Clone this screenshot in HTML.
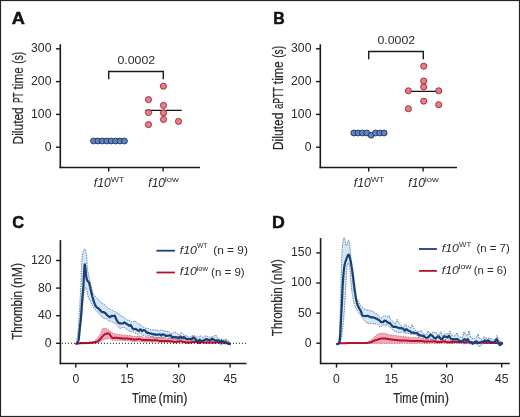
<!DOCTYPE html>
<html><head><meta charset="utf-8"><style>
html,body{margin:0;padding:0;background:#fff;}
body{width:520px;height:417px;overflow:hidden;}
svg{display:block;font-family:"Liberation Sans", sans-serif;will-change:transform;}
</style></head><body>
<svg width="520" height="417" viewBox="0 0 520 417">
<rect x="0" y="0" width="520" height="417" fill="#fff"/>
<rect x="0.5" y="0.5" width="519" height="416" fill="none" stroke="#262626" stroke-width="1.2"/>
<text x="11.65" y="24.30" font-size="17.2" font-weight="bold" fill="#111" textLength="13.13" lengthAdjust="spacingAndGlyphs" stroke="#111" stroke-width="0.5">A</text>
<text x="273.24" y="24.30" font-size="17.2" font-weight="bold" fill="#111" textLength="11.49" lengthAdjust="spacingAndGlyphs" stroke="#111" stroke-width="0.5">B</text>
<text x="12.23" y="227.60" font-size="17.2" font-weight="bold" fill="#111" textLength="11.82" lengthAdjust="spacingAndGlyphs" stroke="#111" stroke-width="0.5">C</text>
<text x="272.11" y="227.50" font-size="17.2" font-weight="bold" fill="#111" textLength="12.84" lengthAdjust="spacingAndGlyphs" stroke="#111" stroke-width="0.5">D</text>
<line x1="60.3" y1="44.3" x2="60.3" y2="168.2" stroke="#1a1a1a" stroke-width="1.6"/>
<line x1="59.599999999999994" y1="167.5" x2="200" y2="167.5" stroke="#1a1a1a" stroke-width="1.6"/>
<line x1="56.0" y1="48.8" x2="60.3" y2="48.8" stroke="#1a1a1a" stroke-width="1.4"/>
<text x="31.09" y="52.20" font-size="12.6" fill="#2b2b2b" textLength="20.39" lengthAdjust="spacingAndGlyphs">300</text>
<line x1="56.0" y1="81.6" x2="60.3" y2="81.6" stroke="#1a1a1a" stroke-width="1.4"/>
<text x="31.09" y="85.00" font-size="12.6" fill="#2b2b2b" textLength="20.39" lengthAdjust="spacingAndGlyphs">200</text>
<line x1="56.0" y1="114.4" x2="60.3" y2="114.4" stroke="#1a1a1a" stroke-width="1.4"/>
<text x="31.09" y="117.80" font-size="12.6" fill="#2b2b2b" textLength="20.39" lengthAdjust="spacingAndGlyphs">100</text>
<line x1="56.0" y1="147.2" x2="60.3" y2="147.2" stroke="#1a1a1a" stroke-width="1.4"/>
<text x="44.68" y="150.60" font-size="12.6" fill="#2b2b2b" textLength="6.80" lengthAdjust="spacingAndGlyphs">0</text>
<line x1="108.7" y1="167.5" x2="108.7" y2="171.6" stroke="#1a1a1a" stroke-width="1.4"/>
<line x1="163.1" y1="167.5" x2="163.1" y2="171.6" stroke="#1a1a1a" stroke-width="1.4"/>
<text x="93.79" y="186.90" font-size="12.2" font-style="italic" fill="#2b2b2b" textLength="16.91" lengthAdjust="spacingAndGlyphs">f10</text>
<text x="110.86" y="182.10" font-size="7.8" fill="#2b2b2b" textLength="13.54" lengthAdjust="spacingAndGlyphs">WT</text>
<text x="148.29" y="186.90" font-size="12.2" font-style="italic" fill="#2b2b2b" textLength="16.81" lengthAdjust="spacingAndGlyphs">f10</text>
<text x="164.67" y="182.10" font-size="7.8" fill="#2b2b2b" textLength="14.11" lengthAdjust="spacingAndGlyphs">low</text>
<g transform="translate(22.70,0) rotate(-90)"><text x="-144.48" y="0.00" font-size="14.8" fill="#2b2b2b" textLength="37.25" lengthAdjust="spacingAndGlyphs" stroke="#2b2b2b" stroke-width="0.22">Diluted</text><text x="-103.09" y="0.00" font-size="14.8" fill="#2b2b2b" textLength="10.79" lengthAdjust="spacingAndGlyphs" stroke="#2b2b2b" stroke-width="0.22">PT</text><text x="-89.48" y="0.00" font-size="14.8" fill="#2b2b2b" textLength="22.20" lengthAdjust="spacingAndGlyphs" stroke="#2b2b2b" stroke-width="0.22">time</text><text x="-63.74" y="0.00" font-size="14.8" fill="#2b2b2b" textLength="11.97" lengthAdjust="spacingAndGlyphs" stroke="#2b2b2b" stroke-width="0.22">(s)</text></g>
<path d="M108.7 79.3 V71.5 H163.3 V79.3" fill="none" stroke="#1a1a1a" stroke-width="1.4"/>
<text x="117.42" y="63.80" font-size="11.4" fill="#2b2b2b" textLength="37.70" lengthAdjust="spacingAndGlyphs">0.0002</text>
<line x1="145.4" y1="110.4" x2="181.8" y2="110.4" stroke="#111" stroke-width="1.4"/>
<circle cx="93.50" cy="141.0" r="2.95" fill="#6283be" stroke="#1c3462" stroke-width="0.9"/>
<circle cx="97.92" cy="141.0" r="2.95" fill="#6283be" stroke="#1c3462" stroke-width="0.9"/>
<circle cx="102.34" cy="141.0" r="2.95" fill="#6283be" stroke="#1c3462" stroke-width="0.9"/>
<circle cx="106.76" cy="141.0" r="2.95" fill="#6283be" stroke="#1c3462" stroke-width="0.9"/>
<circle cx="111.18" cy="141.0" r="2.95" fill="#6283be" stroke="#1c3462" stroke-width="0.9"/>
<circle cx="115.60" cy="141.0" r="2.95" fill="#6283be" stroke="#1c3462" stroke-width="0.9"/>
<circle cx="120.02" cy="141.0" r="2.95" fill="#6283be" stroke="#1c3462" stroke-width="0.9"/>
<circle cx="124.44" cy="141.0" r="2.95" fill="#6283be" stroke="#1c3462" stroke-width="0.9"/>
<circle cx="163.40" cy="86.2" r="3.05" fill="#ee747e" stroke="#962432" stroke-width="0.9" fill-opacity="0.95"/>
<circle cx="148.50" cy="99.6" r="3.05" fill="#ee747e" stroke="#962432" stroke-width="0.9" fill-opacity="0.95"/>
<circle cx="163.50" cy="105.4" r="3.05" fill="#ee747e" stroke="#962432" stroke-width="0.9" fill-opacity="0.95"/>
<circle cx="148.50" cy="112.6" r="3.05" fill="#ee747e" stroke="#962432" stroke-width="0.9" fill-opacity="0.95"/>
<circle cx="163.50" cy="112.9" r="3.05" fill="#ee747e" stroke="#962432" stroke-width="0.9" fill-opacity="0.95"/>
<circle cx="163.50" cy="119.5" r="3.05" fill="#ee747e" stroke="#962432" stroke-width="0.9" fill-opacity="0.95"/>
<circle cx="178.50" cy="121.4" r="3.05" fill="#ee747e" stroke="#962432" stroke-width="0.9" fill-opacity="0.95"/>
<circle cx="148.50" cy="124.6" r="3.05" fill="#ee747e" stroke="#962432" stroke-width="0.9" fill-opacity="0.95"/>
<line x1="320.3" y1="44.3" x2="320.3" y2="168.2" stroke="#1a1a1a" stroke-width="1.6"/>
<line x1="319.6" y1="167.5" x2="457" y2="167.5" stroke="#1a1a1a" stroke-width="1.6"/>
<line x1="316.0" y1="48.8" x2="320.3" y2="48.8" stroke="#1a1a1a" stroke-width="1.4"/>
<text x="291.09" y="52.20" font-size="12.6" fill="#2b2b2b" textLength="20.39" lengthAdjust="spacingAndGlyphs">300</text>
<line x1="316.0" y1="81.6" x2="320.3" y2="81.6" stroke="#1a1a1a" stroke-width="1.4"/>
<text x="291.09" y="85.00" font-size="12.6" fill="#2b2b2b" textLength="20.39" lengthAdjust="spacingAndGlyphs">200</text>
<line x1="316.0" y1="114.4" x2="320.3" y2="114.4" stroke="#1a1a1a" stroke-width="1.4"/>
<text x="291.09" y="117.80" font-size="12.6" fill="#2b2b2b" textLength="20.39" lengthAdjust="spacingAndGlyphs">100</text>
<line x1="316.0" y1="147.2" x2="320.3" y2="147.2" stroke="#1a1a1a" stroke-width="1.4"/>
<text x="304.68" y="150.60" font-size="12.6" fill="#2b2b2b" textLength="6.80" lengthAdjust="spacingAndGlyphs">0</text>
<line x1="368.7" y1="167.5" x2="368.7" y2="171.6" stroke="#1a1a1a" stroke-width="1.4"/>
<line x1="423.1" y1="167.5" x2="423.1" y2="171.6" stroke="#1a1a1a" stroke-width="1.4"/>
<text x="353.79" y="186.90" font-size="12.2" font-style="italic" fill="#2b2b2b" textLength="16.91" lengthAdjust="spacingAndGlyphs">f10</text>
<text x="370.86" y="182.10" font-size="7.8" fill="#2b2b2b" textLength="13.54" lengthAdjust="spacingAndGlyphs">WT</text>
<text x="408.29" y="186.90" font-size="12.2" font-style="italic" fill="#2b2b2b" textLength="16.81" lengthAdjust="spacingAndGlyphs">f10</text>
<text x="424.67" y="182.10" font-size="7.8" fill="#2b2b2b" textLength="14.11" lengthAdjust="spacingAndGlyphs">low</text>
<g transform="translate(282.70,0) rotate(-90)"><text x="-150.20" y="0.00" font-size="14.8" fill="#2b2b2b" textLength="37.78" lengthAdjust="spacingAndGlyphs" stroke="#2b2b2b" stroke-width="0.22">Diluted</text><text x="-108.78" y="0.00" font-size="14.8" fill="#2b2b2b" textLength="21.68" lengthAdjust="spacingAndGlyphs" stroke="#2b2b2b" stroke-width="0.22">aPTT</text><text x="-84.18" y="0.00" font-size="14.8" fill="#2b2b2b" textLength="22.92" lengthAdjust="spacingAndGlyphs" stroke="#2b2b2b" stroke-width="0.22">time</text><text x="-57.83" y="0.00" font-size="14.8" fill="#2b2b2b" textLength="11.86" lengthAdjust="spacingAndGlyphs" stroke="#2b2b2b" stroke-width="0.22">(s)</text></g>
<path d="M368.7 59.3 V51.5 H423.3 V59.3" fill="none" stroke="#1a1a1a" stroke-width="1.4"/>
<text x="377.42" y="43.70" font-size="11.4" fill="#2b2b2b" textLength="37.70" lengthAdjust="spacingAndGlyphs">0.0002</text>
<line x1="405.4" y1="91.4" x2="441.8" y2="91.4" stroke="#111" stroke-width="1.4"/>
<circle cx="353.80" cy="133.0" r="2.95" fill="#6283be" stroke="#1c3462" stroke-width="0.9"/>
<circle cx="358.13" cy="133.0" r="2.95" fill="#6283be" stroke="#1c3462" stroke-width="0.9"/>
<circle cx="362.46" cy="133.0" r="2.95" fill="#6283be" stroke="#1c3462" stroke-width="0.9"/>
<circle cx="366.79" cy="133.0" r="2.95" fill="#6283be" stroke="#1c3462" stroke-width="0.9"/>
<circle cx="371.12" cy="135.2" r="2.95" fill="#6283be" stroke="#1c3462" stroke-width="0.9"/>
<circle cx="375.45" cy="133.0" r="2.95" fill="#6283be" stroke="#1c3462" stroke-width="0.9"/>
<circle cx="379.78" cy="133.0" r="2.95" fill="#6283be" stroke="#1c3462" stroke-width="0.9"/>
<circle cx="384.11" cy="133.0" r="2.95" fill="#6283be" stroke="#1c3462" stroke-width="0.9"/>
<circle cx="423.70" cy="66.2" r="3.05" fill="#ee747e" stroke="#962432" stroke-width="0.9" fill-opacity="0.95"/>
<circle cx="423.70" cy="81.0" r="3.05" fill="#ee747e" stroke="#962432" stroke-width="0.9" fill-opacity="0.95"/>
<circle cx="423.70" cy="86.9" r="3.05" fill="#ee747e" stroke="#962432" stroke-width="0.9" fill-opacity="0.95"/>
<circle cx="408.40" cy="90.8" r="3.05" fill="#ee747e" stroke="#962432" stroke-width="0.9" fill-opacity="0.95"/>
<circle cx="438.70" cy="90.8" r="3.05" fill="#ee747e" stroke="#962432" stroke-width="0.9" fill-opacity="0.95"/>
<circle cx="423.70" cy="101.2" r="3.05" fill="#ee747e" stroke="#962432" stroke-width="0.9" fill-opacity="0.95"/>
<circle cx="438.70" cy="104.7" r="3.05" fill="#ee747e" stroke="#962432" stroke-width="0.9" fill-opacity="0.95"/>
<circle cx="408.40" cy="108.7" r="3.05" fill="#ee747e" stroke="#962432" stroke-width="0.9" fill-opacity="0.95"/>
<path d="M75.8 344.0 L76.1 343.4 L76.3 342.9 L76.5 342.3 L76.7 341.8 L76.8 341.2 L76.9 340.6 L77.0 340.0 L77.1 339.4 L77.2 338.8 L77.2 338.2 L77.3 337.6 L77.4 337.0 L77.5 336.4 L77.5 335.8 L77.6 335.2 L77.6 334.6 L77.7 334.0 L77.8 333.4 L77.8 332.8 L77.9 332.2 L77.9 331.6 L78.0 331.0 L78.1 330.4 L78.1 329.8 L78.2 329.2 L78.2 328.6 L78.3 328.0 L78.3 327.4 L78.4 326.8 L78.4 326.2 L78.5 325.6 L78.5 325.0 L78.5 324.4 L78.6 323.8 L78.6 323.2 L78.7 322.6 L78.7 322.0 L78.8 321.4 L78.8 320.8 L78.8 320.2 L78.9 319.6 L78.9 319.0 L79.0 318.4 L79.0 317.8 L79.1 317.2 L79.1 316.6 L79.1 316.0 L79.2 315.4 L79.2 314.8 L79.3 314.2 L79.3 313.6 L79.3 313.0 L79.4 312.4 L79.4 311.8 L79.4 311.2 L79.5 310.6 L79.5 310.0 L79.6 309.4 L79.6 308.8 L79.6 308.2 L79.7 307.6 L79.7 307.0 L79.7 306.4 L79.8 305.8 L79.8 305.2 L79.8 304.6 L79.9 304.0 L79.9 303.4 L79.9 302.8 L80.0 302.2 L80.0 301.6 L80.0 301.0 L80.1 300.4 L80.1 299.8 L80.1 299.2 L80.2 298.6 L80.2 298.0 L80.2 297.4 L80.3 296.8 L80.3 296.2 L80.3 295.6 L80.4 295.0 L80.4 294.4 L80.4 293.8 L80.5 293.2 L80.5 292.6 L80.5 292.0 L80.6 291.4 L80.6 290.8 L80.6 290.2 L80.6 289.6 L80.7 289.0 L80.7 288.4 L80.7 287.8 L80.8 287.2 L80.8 286.6 L80.8 286.0 L80.8 285.4 L80.9 284.8 L80.9 284.2 L80.9 283.6 L80.9 283.0 L81.0 282.4 L81.0 281.8 L81.0 281.2 L81.0 280.6 L81.0 280.0 L81.1 279.4 L81.1 278.8 L81.1 278.2 L81.1 277.6 L81.1 277.0 L81.2 276.4 L81.2 275.8 L81.2 275.2 L81.2 274.6 L81.2 274.0 L81.3 273.4 L81.3 272.8 L81.3 272.2 L81.3 271.6 L81.4 271.0 L81.4 270.4 L81.4 269.8 L81.4 269.2 L81.5 268.5 L81.5 267.9 L81.5 267.3 L81.5 266.7 L81.6 266.1 L81.6 265.5 L81.6 264.9 L81.7 264.3 L81.7 263.7 L81.7 263.1 L81.8 262.5 L81.8 261.9 L81.8 261.3 L81.9 260.7 L81.9 260.1 L82.0 259.5 L82.0 258.9 L82.1 258.3 L82.1 257.7 L82.2 257.1 L82.2 256.5 L82.3 255.9 L82.4 255.3 L82.5 254.7 L82.6 254.1 L82.7 253.5 L82.8 252.9 L83.0 252.3 L83.1 251.8 L83.3 251.2 L83.5 250.7 L83.9 250.0 L84.3 249.4 L84.7 249.1 L84.9 249.1 L85.2 249.4 L85.5 250.0 L85.7 250.7 L85.9 251.5 L86.0 252.1 L86.1 252.7 L86.2 253.3 L86.3 253.8 L86.4 254.4 L86.5 255.0 L86.6 255.6 L86.6 256.2 L86.7 256.9 L86.8 257.5 L86.8 258.1 L86.9 258.7 L86.9 259.3 L86.9 259.9 L87.0 260.5 L87.0 261.1 L87.0 261.7 L87.1 262.3 L87.1 262.9 L87.1 263.5 L87.1 264.1 L87.2 264.7 L87.2 265.3 L87.2 265.9 L87.3 266.5 L87.3 267.1 L87.4 267.7 L87.4 268.3 L87.5 268.9 L87.5 269.5 L87.6 270.0 L87.7 270.6 L87.8 271.2 L87.9 271.8 L88.0 272.4 L88.2 273.0 L88.3 273.6 L88.4 274.2 L88.5 274.8 L88.6 275.4 L88.8 276.0 L88.9 276.5 L89.0 277.1 L89.2 277.7 L89.3 278.3 L89.5 278.9 L89.6 279.5 L89.8 280.0 L89.9 280.6 L90.1 281.2 L90.2 281.8 L90.3 282.4 L90.5 283.0 L90.6 283.6 L90.7 284.2 L90.9 284.7 L91.0 285.3 L91.1 285.9 L91.3 286.5 L91.4 287.1 L91.5 287.7 L91.7 288.3 L91.8 288.9 L92.0 289.5 L92.1 290.1 L92.2 290.7 L92.4 291.3 L92.5 291.8 L92.7 292.4 L92.9 293.0 L93.1 293.5 L93.3 294.0 L93.6 294.5 L94.0 295.0 L94.4 295.4 L94.8 295.9 L95.2 296.4 L95.6 296.8 L96.1 297.2 L96.5 297.7 L96.9 298.1 L97.3 298.5 L97.7 299.0 L98.2 299.4 L98.6 299.8 L99.0 300.2 L99.4 300.6 L99.9 301.1 L100.3 301.6 L100.8 302.1 L101.2 302.6 L101.7 303.0 L102.1 303.3 L102.6 303.6 L103.1 303.8 L103.5 304.0 L104.0 304.2 L104.5 304.6 L104.9 305.1 L105.4 305.6 L105.8 306.2 L106.3 306.9 L106.7 307.3 L107.2 307.7 L107.7 308.0 L108.1 308.3 L108.6 308.5 L109.1 308.7 L109.6 308.9 L110.1 309.2 L110.6 309.5 L111.1 309.8 L111.6 310.0 L112.1 310.3 L112.6 310.6 L113.2 310.9 L113.7 311.2 L114.2 311.4 L114.8 311.5 L115.3 311.9 L115.8 312.2 L116.4 312.5 L116.9 312.8 L117.4 313.1 L118.0 313.4 L118.5 313.6 L119.0 313.9 L119.5 314.2 L120.0 314.7 L120.6 315.3 L121.1 315.9 L121.6 316.2 L122.1 316.4 L122.7 316.7 L123.2 317.0 L123.7 317.2 L124.2 317.5 L124.8 317.9 L125.3 318.4 L125.8 318.9 L126.3 319.4 L126.9 319.8 L127.4 320.1 L128.0 320.1 L128.5 320.2 L129.1 320.2 L129.6 320.3 L130.2 320.6 L130.7 321.0 L131.3 321.4 L131.8 321.7 L132.4 322.1 L132.9 321.9 L133.5 321.6 L134.0 321.3 L134.6 320.9 L135.1 320.7 L135.7 321.3 L136.2 321.9 L136.8 322.5 L137.4 323.1 L137.9 323.6 L138.5 323.8 L139.0 324.1 L139.6 324.3 L140.2 324.6 L140.7 325.1 L141.3 325.6 L141.8 326.1 L142.4 326.6 L142.9 326.9 L143.5 327.0 L144.1 327.3 L144.6 327.7 L145.2 328.1 L145.7 328.3 L146.3 328.4 L146.8 328.5 L147.4 328.4 L147.9 328.3 L148.5 328.6 L149.1 328.9 L149.6 329.2 L150.2 329.4 L150.8 329.7 L151.4 329.8 L151.9 329.8 L152.5 329.9 L153.1 330.0 L153.7 329.9 L154.3 329.9 L154.9 329.8 L155.5 329.8 L156.1 329.9 L156.7 330.2 L157.3 330.4 L157.9 330.6 L158.5 330.7 L159.1 330.6 L159.7 330.6 L160.3 330.3 L160.8 330.1 L161.4 330.1 L162.0 330.1 L162.6 330.2 L163.2 330.4 L163.8 330.7 L164.4 330.9 L165.0 331.1 L165.6 331.3 L166.2 331.6 L166.8 331.5 L167.3 331.5 L167.9 331.4 L168.5 331.3 L169.1 331.5 L169.7 332.1 L170.3 332.6 L170.9 333.2 L171.5 333.6 L172.1 333.3 L172.7 332.9 L173.3 332.3 L173.9 331.8 L174.5 331.9 L175.1 332.1 L175.7 332.4 L176.3 333.0 L176.8 333.5 L177.4 333.8 L178.0 334.2 L178.6 334.5 L179.2 334.6 L179.8 334.1 L180.4 333.6 L181.0 333.1 L181.6 332.6 L182.2 332.8 L182.8 333.5 L183.4 334.2 L184.0 334.9 L184.6 335.4 L185.2 335.5 L185.8 335.7 L186.4 335.8 L187.0 336.0 L187.6 336.3 L188.2 336.7 L188.8 337.0 L189.3 337.3 L189.9 337.1 L190.5 336.7 L191.1 336.3 L191.7 335.9 L192.3 335.5 L192.9 335.5 L193.5 335.6 L194.1 335.6 L194.7 335.7 L195.3 336.1 L195.9 336.5 L196.5 337.0 L197.1 337.4 L197.7 337.5 L198.3 337.1 L198.9 336.5 L199.5 335.9 L200.1 335.5 L200.7 336.0 L201.3 336.4 L201.9 336.9 L202.5 337.5 L203.1 337.2 L203.7 336.8 L204.3 336.5 L204.9 335.9 L205.5 335.8 L206.1 336.0 L206.7 336.3 L207.3 336.5 L207.9 336.8 L208.5 336.8 L209.1 336.9 L209.7 337.0 L210.3 337.0 L210.9 336.9 L211.5 336.9 L212.1 336.9 L212.7 336.9 L213.3 336.6 L213.9 336.1 L214.5 335.6 L215.2 335.2 L215.8 335.1 L216.4 336.0 L217.0 337.0 L217.6 338.1 L218.2 339.2 L218.8 339.2 L219.4 339.1 L220.0 339.1 L220.6 339.0 L221.2 339.1 L221.8 339.4 L222.4 339.6 L222.9 339.9 L223.5 340.0 L224.1 339.8 L224.7 339.5 L225.2 339.3 L225.8 339.1 L226.4 339.3 L226.9 339.6 L227.5 340.0 L228.0 340.4 L228.6 340.8 L229.1 341.6 L229.6 342.5 L230.2 343.3 L230.7 344.1 L230.7 345.9 L230.1 345.4 L229.5 344.7 L228.9 344.0 L228.3 343.7 L227.7 343.8 L227.1 343.8 L226.5 343.9 L225.9 344.0 L225.3 343.9 L224.7 343.8 L224.1 343.7 L223.5 343.6 L222.9 343.9 L222.3 344.2 L221.7 344.6 L221.1 345.0 L220.5 345.0 L219.9 344.3 L219.4 343.6 L218.8 343.0 L218.2 342.3 L217.6 341.8 L217.0 341.4 L216.4 341.1 L215.8 340.7 L215.2 340.6 L214.6 340.5 L214.0 340.4 L213.4 340.4 L212.8 340.4 L212.2 340.5 L211.6 340.7 L211.0 340.8 L210.4 341.0 L209.8 340.9 L209.2 340.7 L208.6 340.6 L208.0 340.4 L207.4 340.2 L206.8 339.9 L206.2 339.6 L205.6 339.4 L205.0 339.5 L204.4 340.1 L203.8 340.6 L203.2 341.1 L202.6 341.6 L202.0 341.8 L201.4 342.0 L200.8 342.4 L200.2 342.7 L199.6 342.9 L199.0 342.9 L198.4 343.0 L197.8 342.9 L197.2 342.6 L196.6 342.5 L196.0 342.3 L195.4 342.1 L194.8 341.9 L194.2 341.1 L193.6 340.3 L193.0 339.5 L192.4 338.7 L191.8 338.7 L191.2 338.9 L190.6 339.0 L190.0 339.1 L189.4 339.3 L188.8 339.5 L188.2 339.6 L187.6 339.7 L187.0 339.8 L186.4 339.5 L185.8 339.3 L185.2 339.1 L184.6 338.9 L184.0 338.6 L183.4 338.4 L182.8 338.1 L182.2 337.8 L181.6 337.8 L181.0 338.2 L180.4 338.6 L179.8 339.1 L179.2 339.5 L178.6 339.5 L178.0 339.4 L177.4 339.3 L176.7 339.2 L176.1 338.8 L175.5 338.3 L174.9 338.2 L174.3 338.0 L173.7 338.0 L173.1 338.1 L172.5 338.3 L171.9 338.3 L171.3 338.2 L170.7 338.1 L170.1 338.1 L169.5 338.0 L168.9 338.0 L168.3 337.5 L167.7 336.9 L167.1 336.3 L166.5 335.6 L165.9 335.6 L165.3 336.3 L164.7 337.0 L164.1 337.6 L163.5 338.2 L162.9 338.0 L162.3 337.9 L161.7 337.9 L161.1 338.0 L160.5 337.9 L159.9 337.7 L159.3 337.6 L158.7 337.3 L158.1 337.3 L157.5 337.7 L156.9 338.0 L156.3 338.4 L155.7 338.6 L155.1 338.2 L154.5 337.8 L153.9 337.4 L153.4 337.0 L152.8 336.9 L152.2 336.8 L151.6 336.7 L151.0 336.7 L150.4 336.5 L149.8 336.3 L149.2 336.1 L148.6 335.9 L148.0 335.7 L147.4 335.9 L146.8 336.2 L146.2 336.3 L145.6 336.4 L145.0 336.2 L144.4 335.9 L143.9 335.7 L143.3 335.6 L142.7 335.5 L142.1 334.8 L141.5 334.2 L141.0 333.5 L140.4 332.8 L139.8 332.8 L139.3 333.2 L138.7 333.7 L138.2 334.1 L137.6 334.6 L137.1 334.2 L136.5 333.9 L135.9 333.6 L135.4 333.3 L134.8 333.0 L134.2 332.7 L133.7 332.3 L133.1 331.8 L132.5 331.3 L131.9 331.3 L131.3 331.4 L130.7 331.5 L130.2 331.5 L129.6 331.4 L129.0 330.9 L128.4 330.3 L127.9 329.8 L127.3 329.4 L126.7 329.1 L126.2 328.7 L125.6 328.3 L125.0 328.0 L124.5 327.6 L123.9 327.6 L123.4 327.6 L122.8 327.6 L122.3 327.6 L121.7 327.8 L121.2 328.2 L120.7 328.2 L120.1 328.2 L119.6 328.2 L119.1 327.7 L118.5 326.9 L118.0 326.1 L117.5 325.4 L117.0 324.7 L116.4 324.2 L115.9 323.9 L115.4 323.5 L114.9 323.2 L114.3 323.0 L113.8 322.8 L113.3 322.5 L112.8 322.2 L112.2 321.9 L111.7 321.6 L111.2 321.5 L110.7 321.4 L110.1 321.3 L109.6 321.3 L109.0 321.2 L108.4 320.6 L107.9 320.0 L107.3 319.4 L106.7 318.8 L106.1 318.5 L105.6 318.4 L105.0 318.3 L104.5 318.3 L104.0 318.3 L103.5 318.1 L103.1 317.9 L102.6 317.5 L102.2 317.2 L101.8 316.7 L101.3 316.2 L100.9 315.7 L100.5 315.1 L100.1 314.6 L99.6 314.1 L99.2 313.7 L98.8 313.2 L98.4 312.8 L97.9 312.4 L97.5 312.0 L97.1 311.6 L96.7 311.1 L96.3 310.7 L95.9 310.2 L95.5 309.8 L95.1 309.3 L94.7 308.8 L94.3 308.4 L94.0 307.9 L93.6 307.4 L93.3 306.9 L93.0 306.4 L92.6 305.9 L92.4 305.4 L92.1 304.9 L91.8 304.3 L91.5 303.8 L91.3 303.2 L91.0 302.7 L90.8 302.1 L90.5 301.6 L90.3 301.0 L90.0 300.5 L89.7 300.0 L89.5 299.4 L89.2 298.9 L88.9 298.3 L88.7 297.8 L88.4 297.2 L88.2 296.7 L88.0 296.1 L87.9 295.5 L87.7 294.9 L87.6 294.3 L87.5 293.8 L87.4 293.2 L87.3 292.6 L87.2 292.0 L87.1 291.4 L87.0 290.8 L86.9 290.2 L86.7 289.6 L86.5 288.8 L86.2 288.1 L86.0 287.6 L85.8 287.5 L85.5 287.8 L85.2 288.4 L84.9 289.1 L84.7 289.8 L84.5 290.3 L84.4 290.9 L84.2 291.5 L84.1 292.1 L84.0 292.7 L83.9 293.3 L83.8 293.9 L83.7 294.5 L83.7 295.1 L83.6 295.7 L83.5 296.3 L83.4 296.9 L83.4 297.5 L83.3 298.1 L83.2 298.7 L83.2 299.3 L83.1 299.9 L83.0 300.5 L83.0 301.1 L82.9 301.7 L82.9 302.3 L82.8 302.9 L82.8 303.5 L82.7 304.1 L82.7 304.7 L82.6 305.3 L82.6 305.9 L82.5 306.5 L82.5 307.1 L82.4 307.7 L82.4 308.3 L82.3 308.9 L82.2 309.5 L82.2 310.1 L82.1 310.7 L82.1 311.3 L82.0 311.9 L82.0 312.5 L81.9 313.1 L81.9 313.7 L81.8 314.3 L81.8 314.9 L81.7 315.5 L81.7 316.1 L81.6 316.7 L81.6 317.3 L81.5 317.9 L81.4 318.5 L81.4 319.1 L81.3 319.7 L81.3 320.3 L81.2 320.9 L81.2 321.5 L81.1 322.1 L81.0 322.7 L81.0 323.3 L80.9 323.9 L80.9 324.5 L80.8 325.1 L80.7 325.7 L80.7 326.3 L80.6 326.9 L80.5 327.5 L80.5 328.1 L80.4 328.7 L80.4 329.3 L80.3 329.9 L80.3 330.5 L80.2 331.1 L80.1 331.7 L80.1 332.3 L80.0 332.9 L79.9 333.5 L79.8 334.1 L79.8 334.7 L79.7 335.3 L79.6 335.9 L79.5 336.5 L79.4 337.1 L79.3 337.7 L79.2 338.2 L79.0 338.8 L78.9 339.4 L78.7 340.0 L78.5 340.6 L78.3 341.2 L78.1 341.7 L77.8 342.3 L77.5 342.8 L77.2 343.3 L76.8 343.7 L76.3 344.1 L75.8 344.4Z" fill="#d3e7f7" stroke="none"/>
<path d="M75.8 343.8 L76.4 343.7 L77.0 343.7 L77.6 343.6 L78.2 343.6 L78.8 343.5 L79.4 343.5 L80.0 343.4 L80.6 343.4 L81.2 343.3 L81.8 343.2 L82.4 343.2 L83.0 343.1 L83.6 343.0 L84.2 343.0 L84.8 342.9 L85.4 342.9 L86.0 342.8 L86.6 342.7 L87.2 342.7 L87.8 342.6 L88.5 342.6 L89.1 342.5 L89.7 342.4 L90.2 342.3 L90.8 342.2 L91.4 342.1 L92.0 341.9 L92.6 341.7 L93.2 341.5 L93.7 341.3 L94.3 341.0 L94.8 340.7 L95.2 340.4 L95.7 340.0 L96.1 339.5 L96.5 339.1 L97.0 338.6 L97.4 338.2 L97.8 337.7 L98.1 337.2 L98.5 336.8 L98.9 336.3 L99.2 335.8 L99.6 335.3 L99.9 334.8 L100.2 334.2 L100.5 333.6 L100.8 333.0 L101.0 332.3 L101.3 331.6 L101.5 330.9 L101.8 330.2 L102.0 329.6 L102.3 329.1 L102.6 328.7 L103.0 328.4 L103.3 328.2 L103.8 328.2 L104.4 328.2 L105.1 328.3 L105.7 328.3 L106.2 328.6 L106.7 328.9 L107.2 329.3 L107.7 329.6 L108.3 329.9 L108.8 330.3 L109.3 330.6 L109.8 330.9 L110.3 331.2 L110.8 331.5 L111.3 331.9 L111.8 332.3 L112.2 332.7 L112.7 333.1 L113.2 333.3 L113.8 333.5 L114.3 333.7 L114.9 333.8 L115.5 333.9 L116.0 334.1 L116.6 334.2 L117.3 334.4 L117.9 334.5 L118.5 334.6 L119.1 334.6 L119.7 334.6 L120.3 334.6 L120.9 334.6 L121.5 334.7 L122.1 334.8 L122.7 335.0 L123.3 335.1 L123.9 335.2 L124.5 335.3 L125.1 335.4 L125.7 335.4 L126.3 335.4 L126.9 335.5 L127.5 335.5 L128.1 335.6 L128.7 335.5 L129.3 335.5 L129.9 335.5 L130.5 335.6 L131.1 335.8 L131.7 336.0 L132.3 336.1 L133.0 336.3 L133.6 336.3 L134.2 336.3 L134.8 336.4 L135.4 336.4 L136.0 336.5 L136.6 336.5 L137.2 336.6 L137.8 336.3 L138.4 336.1 L139.0 335.9 L139.6 335.9 L140.2 336.1 L140.8 336.2 L141.4 336.4 L142.0 336.5 L142.6 337.0 L143.2 337.4 L143.8 337.8 L144.4 338.3 L145.0 338.1 L145.6 337.8 L146.2 337.5 L146.8 337.2 L147.4 337.2 L148.0 337.2 L148.6 337.3 L149.2 337.3 L149.8 337.2 L150.4 337.0 L151.0 336.9 L151.6 336.8 L152.2 336.9 L152.8 337.1 L153.4 337.3 L154.0 337.4 L154.7 337.4 L155.3 337.4 L155.9 337.4 L156.5 337.4 L157.1 337.4 L157.7 337.5 L158.3 337.7 L158.9 337.8 L159.5 338.0 L160.1 338.2 L160.7 338.2 L161.3 338.2 L161.9 338.2 L162.5 338.2 L163.1 338.2 L163.7 338.2 L164.3 338.3 L164.9 338.3 L165.5 338.4 L166.1 338.4 L166.7 338.5 L167.3 338.6 L167.9 338.7 L168.5 338.7 L169.1 338.5 L169.7 338.4 L170.3 338.2 L170.9 338.1 L171.6 338.1 L172.2 338.2 L172.8 338.3 L173.4 338.5 L174.0 338.8 L174.6 339.1 L175.2 339.3 L175.8 339.3 L176.4 339.2 L177.0 339.1 L177.6 338.9 L178.2 338.8 L178.8 338.7 L179.4 338.5 L180.0 338.3 L180.6 338.2 L181.2 338.1 L181.8 338.3 L182.4 338.4 L183.0 338.5 L183.6 338.7 L184.2 338.9 L184.8 339.0 L185.4 339.2 L186.0 339.3 L186.6 339.5 L187.2 339.6 L187.8 339.7 L188.5 339.8 L189.1 339.8 L189.7 339.9 L190.3 339.9 L190.9 339.9 L191.5 339.9 L192.1 339.9 L192.7 339.9 L193.3 339.8 L193.9 339.7 L194.5 339.6 L195.1 339.5 L195.7 339.3 L196.3 339.2 L196.9 339.4 L197.5 339.7 L198.1 340.2 L198.7 340.8 L199.3 341.1 L199.9 340.9 L200.5 340.6 L201.1 340.4 L201.7 340.1 L202.3 340.0 L202.9 340.0 L203.5 340.1 L204.1 340.1 L204.8 340.2 L205.4 340.2 L206.0 340.2 L206.6 340.2 L207.2 340.3 L207.8 340.4 L208.4 340.5 L209.0 340.6 L209.6 340.5 L210.2 340.4 L210.8 340.3 L211.4 340.2 L212.0 340.2 L212.6 340.3 L213.2 340.3 L213.8 340.4 L214.4 340.4 L215.0 340.4 L215.6 340.5 L216.2 340.5 L216.8 340.6 L217.4 340.7 L218.0 340.9 L218.6 341.0 L219.2 340.9 L219.8 340.7 L220.4 340.5 L221.0 340.3 L221.7 340.5 L222.3 340.7 L222.9 341.0 L223.5 341.3 L224.1 341.2 L224.7 341.0 L225.3 340.8 L225.9 340.6 L226.5 340.8 L227.1 341.1 L227.7 341.4 L228.3 341.7 L228.9 342.0 L229.5 342.0 L229.5 344.2 L228.9 344.4 L228.3 344.2 L227.7 344.0 L227.1 343.8 L226.5 343.6 L225.9 343.5 L225.3 343.4 L224.7 343.4 L224.1 343.4 L223.5 343.3 L222.9 343.3 L222.3 343.3 L221.7 343.2 L221.1 343.2 L220.5 343.2 L219.8 343.1 L219.2 343.1 L218.6 343.1 L218.0 343.1 L217.4 343.0 L216.8 343.0 L216.2 343.1 L215.6 343.1 L215.0 343.1 L214.4 343.2 L213.8 343.2 L213.2 343.2 L212.6 343.2 L212.0 343.1 L211.4 343.1 L210.8 343.1 L210.2 343.1 L209.6 343.1 L209.0 343.2 L208.4 343.2 L207.8 343.2 L207.2 343.2 L206.6 343.2 L206.0 343.2 L205.4 343.3 L204.8 343.2 L204.2 343.1 L203.6 343.0 L203.0 343.0 L202.4 342.9 L201.7 342.9 L201.1 343.1 L200.5 343.3 L199.9 343.5 L199.3 343.7 L198.7 343.7 L198.1 343.4 L197.5 343.2 L196.9 342.9 L196.3 342.6 L195.7 342.5 L195.1 342.6 L194.5 342.6 L193.9 342.7 L193.3 342.8 L192.7 342.9 L192.1 342.9 L191.5 343.0 L190.9 343.1 L190.3 343.1 L189.7 343.1 L189.1 343.2 L188.5 343.2 L187.9 343.2 L187.3 343.2 L186.7 343.1 L186.1 343.1 L185.5 343.0 L184.9 342.9 L184.3 342.9 L183.7 342.7 L183.0 342.6 L182.4 342.5 L181.8 342.3 L181.2 342.2 L180.6 342.2 L180.0 342.2 L179.4 342.3 L178.8 342.4 L178.2 342.5 L177.6 342.6 L177.0 342.7 L176.4 342.8 L175.8 342.9 L175.2 343.1 L174.6 343.0 L174.0 342.9 L173.4 342.7 L172.8 342.6 L172.2 342.5 L171.6 342.4 L171.0 342.4 L170.4 342.4 L169.8 342.4 L169.2 342.4 L168.6 342.4 L168.0 342.4 L167.4 342.4 L166.8 342.3 L166.2 342.3 L165.6 342.3 L165.0 342.4 L164.4 342.4 L163.7 342.4 L163.1 342.4 L162.5 342.5 L161.9 342.5 L161.3 342.5 L160.7 342.5 L160.1 342.6 L159.5 342.4 L158.9 342.3 L158.3 342.1 L157.7 342.0 L157.1 341.8 L156.5 341.8 L155.9 341.9 L155.3 341.9 L154.7 341.9 L154.1 342.0 L153.5 342.0 L152.9 342.0 L152.3 342.0 L151.7 342.0 L151.1 342.0 L150.5 341.9 L149.9 341.9 L149.3 341.9 L148.7 341.9 L148.1 341.9 L147.5 341.9 L146.9 342.0 L146.3 342.0 L145.7 342.1 L145.1 342.1 L144.4 342.1 L143.8 342.0 L143.2 341.9 L142.6 341.9 L142.0 341.8 L141.4 341.7 L140.8 341.5 L140.2 341.4 L139.6 341.3 L139.0 341.1 L138.4 341.2 L137.8 341.2 L137.2 341.3 L136.6 341.4 L136.0 341.5 L135.4 341.5 L134.8 341.5 L134.2 341.5 L133.6 341.6 L133.0 341.6 L132.4 341.5 L131.8 341.3 L131.2 341.2 L130.6 341.0 L130.0 340.9 L129.4 340.8 L128.8 340.8 L128.2 340.7 L127.6 340.7 L127.0 340.6 L126.4 340.6 L125.8 340.7 L125.2 340.7 L124.6 340.7 L124.0 340.7 L123.4 340.6 L122.8 340.5 L122.2 340.4 L121.5 340.4 L120.9 340.3 L120.3 340.3 L119.7 340.3 L119.1 340.3 L118.5 340.3 L117.9 340.4 L117.3 340.3 L116.7 340.3 L116.1 340.3 L115.5 340.3 L114.9 340.2 L114.3 340.2 L113.7 340.2 L113.1 340.1 L112.5 340.1 L111.9 340.0 L111.4 339.8 L110.8 339.4 L110.3 339.0 L109.8 338.7 L109.2 338.6 L108.7 338.6 L108.1 338.7 L107.5 338.8 L106.9 338.9 L106.2 339.0 L105.7 339.1 L105.1 339.3 L104.5 339.5 L103.9 339.7 L103.4 339.9 L102.8 340.1 L102.3 340.4 L101.7 340.6 L101.2 340.9 L100.7 341.3 L100.1 341.7 L99.6 342.0 L99.1 342.3 L98.6 342.6 L98.0 342.8 L97.5 342.9 L96.9 343.0 L96.3 343.1 L95.8 343.2 L95.2 343.2 L94.5 343.3 L93.9 343.3 L93.3 343.4 L92.7 343.4 L92.1 343.5 L91.5 343.5 L90.9 343.5 L90.3 343.6 L89.7 343.6 L89.1 343.7 L88.5 343.7 L87.9 343.7 L87.3 343.8 L86.7 343.8 L86.1 343.8 L85.5 343.9 L84.8 343.9 L84.2 343.9 L83.6 344.0 L83.0 344.0 L82.4 344.0 L81.8 344.0 L81.2 344.1 L80.6 344.1 L80.0 344.1 L79.4 344.1 L78.8 344.1 L78.2 344.2 L77.6 344.2 L77.0 344.2 L76.4 344.2 L75.8 344.2Z" fill="#f3aab8" stroke="none"/>
<path d="M75.8 344.0L76.1 343.4L76.3 342.9L76.5 342.3L76.7 341.8L76.8 341.2L76.9 340.6L77.0 340.0L77.1 339.4L77.2 338.8L77.2 338.2L77.3 337.6L77.4 337.0L77.5 336.4L77.5 335.8L77.6 335.2L77.6 334.6L77.7 334.0L77.8 333.4L77.8 332.8L77.9 332.2L77.9 331.6L78.0 331.0L78.1 330.4L78.1 329.8L78.2 329.2L78.2 328.6L78.3 328.0L78.3 327.4L78.4 326.8L78.4 326.2L78.5 325.6L78.5 325.0L78.5 324.4L78.6 323.8L78.6 323.2L78.7 322.6L78.7 322.0L78.8 321.4L78.8 320.8L78.8 320.2L78.9 319.6L78.9 319.0L79.0 318.4L79.0 317.8L79.1 317.2L79.1 316.6L79.1 316.0L79.2 315.4L79.2 314.8L79.3 314.2L79.3 313.6L79.3 313.0L79.4 312.4L79.4 311.8L79.4 311.2L79.5 310.6L79.5 310.0L79.6 309.4L79.6 308.8L79.6 308.2L79.7 307.6L79.7 307.0L79.7 306.4L79.8 305.8L79.8 305.2L79.8 304.6L79.9 304.0L79.9 303.4L79.9 302.8L80.0 302.2L80.0 301.6L80.0 301.0L80.1 300.4L80.1 299.8L80.1 299.2L80.2 298.6L80.2 298.0L80.2 297.4L80.3 296.8L80.3 296.2L80.3 295.6L80.4 295.0L80.4 294.4L80.4 293.8L80.5 293.2L80.5 292.6L80.5 292.0L80.6 291.4L80.6 290.8L80.6 290.2L80.6 289.6L80.7 289.0L80.7 288.4L80.7 287.8L80.8 287.2L80.8 286.6L80.8 286.0L80.8 285.4L80.9 284.8L80.9 284.2L80.9 283.6L80.9 283.0L81.0 282.4L81.0 281.8L81.0 281.2L81.0 280.6L81.0 280.0L81.1 279.4L81.1 278.8L81.1 278.2L81.1 277.6L81.1 277.0L81.2 276.4L81.2 275.8L81.2 275.2L81.2 274.6L81.2 274.0L81.3 273.4L81.3 272.8L81.3 272.2L81.3 271.6L81.4 271.0L81.4 270.4L81.4 269.8L81.4 269.2L81.5 268.5L81.5 267.9L81.5 267.3L81.5 266.7L81.6 266.1L81.6 265.5L81.6 264.9L81.7 264.3L81.7 263.7L81.7 263.1L81.8 262.5L81.8 261.9L81.8 261.3L81.9 260.7L81.9 260.1L82.0 259.5L82.0 258.9L82.1 258.3L82.1 257.7L82.2 257.1L82.2 256.5L82.3 255.9L82.4 255.3L82.5 254.7L82.6 254.1L82.7 253.5L82.8 252.9L83.0 252.3L83.1 251.8L83.3 251.2L83.5 250.7L83.9 250.0L84.3 249.4L84.7 249.1L84.9 249.1L85.2 249.4L85.5 250.0L85.7 250.7L85.9 251.5L86.0 252.1L86.1 252.7L86.2 253.3L86.3 253.8L86.4 254.4L86.5 255.0L86.6 255.6L86.6 256.2L86.7 256.9L86.8 257.5L86.8 258.1L86.9 258.7L86.9 259.3L86.9 259.9L87.0 260.5L87.0 261.1L87.0 261.7L87.1 262.3L87.1 262.9L87.1 263.5L87.1 264.1L87.2 264.7L87.2 265.3L87.2 265.9L87.3 266.5L87.3 267.1L87.4 267.7L87.4 268.3L87.5 268.9L87.5 269.5L87.6 270.0L87.7 270.6L87.8 271.2L87.9 271.8L88.0 272.4L88.2 273.0L88.3 273.6L88.4 274.2L88.5 274.8L88.6 275.4L88.8 276.0L88.9 276.5L89.0 277.1L89.2 277.7L89.3 278.3L89.5 278.9L89.6 279.5L89.8 280.0L89.9 280.6L90.1 281.2L90.2 281.8L90.3 282.4L90.5 283.0L90.6 283.6L90.7 284.2L90.9 284.7L91.0 285.3L91.1 285.9L91.3 286.5L91.4 287.1L91.5 287.7L91.7 288.3L91.8 288.9L92.0 289.5L92.1 290.1L92.2 290.7L92.4 291.3L92.5 291.8L92.7 292.4L92.9 293.0L93.1 293.5L93.3 294.0L93.6 294.5L94.0 295.0L94.4 295.4L94.8 295.9L95.2 296.4L95.6 296.8L96.1 297.2L96.5 297.7L96.9 298.1L97.3 298.5L97.7 299.0L98.2 299.4L98.6 299.8L99.0 300.2L99.4 300.6L99.9 301.1L100.3 301.6L100.8 302.1L101.2 302.6L101.7 303.0L102.1 303.3L102.6 303.6L103.1 303.8L103.5 304.0L104.0 304.2L104.5 304.6L104.9 305.1L105.4 305.6L105.8 306.2L106.3 306.9L106.7 307.3L107.2 307.7L107.7 308.0L108.1 308.3L108.6 308.5L109.1 308.7L109.6 308.9L110.1 309.2L110.6 309.5L111.1 309.8L111.6 310.0L112.1 310.3L112.6 310.6L113.2 310.9L113.7 311.2L114.2 311.4L114.8 311.5L115.3 311.9L115.8 312.2L116.4 312.5L116.9 312.8L117.4 313.1L118.0 313.4L118.5 313.6L119.0 313.9L119.5 314.2L120.0 314.7L120.6 315.3L121.1 315.9L121.6 316.2L122.1 316.4L122.7 316.7L123.2 317.0L123.7 317.2L124.2 317.5L124.8 317.9L125.3 318.4L125.8 318.9L126.3 319.4L126.9 319.8L127.4 320.1L128.0 320.1L128.5 320.2L129.1 320.2L129.6 320.3L130.2 320.6L130.7 321.0L131.3 321.4L131.8 321.7L132.4 322.1L132.9 321.9L133.5 321.6L134.0 321.3L134.6 320.9L135.1 320.7L135.7 321.3L136.2 321.9L136.8 322.5L137.4 323.1L137.9 323.6L138.5 323.8L139.0 324.1L139.6 324.3L140.2 324.6L140.7 325.1L141.3 325.6L141.8 326.1L142.4 326.6L142.9 326.9L143.5 327.0L144.1 327.3L144.6 327.7L145.2 328.1L145.7 328.3L146.3 328.4L146.8 328.5L147.4 328.4L147.9 328.3L148.5 328.6L149.1 328.9L149.6 329.2L150.2 329.4L150.8 329.7L151.4 329.8L151.9 329.8L152.5 329.9L153.1 330.0L153.7 329.9L154.3 329.9L154.9 329.8L155.5 329.8L156.1 329.9L156.7 330.2L157.3 330.4L157.9 330.6L158.5 330.7L159.1 330.6L159.7 330.6L160.3 330.3L160.8 330.1L161.4 330.1L162.0 330.1L162.6 330.2L163.2 330.4L163.8 330.7L164.4 330.9L165.0 331.1L165.6 331.3L166.2 331.6L166.8 331.5L167.3 331.5L167.9 331.4L168.5 331.3L169.1 331.5L169.7 332.1L170.3 332.6L170.9 333.2L171.5 333.6L172.1 333.3L172.7 332.9L173.3 332.3L173.9 331.8L174.5 331.9L175.1 332.1L175.7 332.4L176.3 333.0L176.8 333.5L177.4 333.8L178.0 334.2L178.6 334.5L179.2 334.6L179.8 334.1L180.4 333.6L181.0 333.1L181.6 332.6L182.2 332.8L182.8 333.5L183.4 334.2L184.0 334.9L184.6 335.4L185.2 335.5L185.8 335.7L186.4 335.8L187.0 336.0L187.6 336.3L188.2 336.7L188.8 337.0L189.3 337.3L189.9 337.1L190.5 336.7L191.1 336.3L191.7 335.9L192.3 335.5L192.9 335.5L193.5 335.6L194.1 335.6L194.7 335.7L195.3 336.1L195.9 336.5L196.5 337.0L197.1 337.4L197.7 337.5L198.3 337.1L198.9 336.5L199.5 335.9L200.1 335.5L200.7 336.0L201.3 336.4L201.9 336.9L202.5 337.5L203.1 337.2L203.7 336.8L204.3 336.5L204.9 335.9L205.5 335.8L206.1 336.0L206.7 336.3L207.3 336.5L207.9 336.8L208.5 336.8L209.1 336.9L209.7 337.0L210.3 337.0L210.9 336.9L211.5 336.9L212.1 336.9L212.7 336.9L213.3 336.6L213.9 336.1L214.5 335.6L215.2 335.2L215.8 335.1L216.4 336.0L217.0 337.0L217.6 338.1L218.2 339.2L218.8 339.2L219.4 339.1L220.0 339.1L220.6 339.0L221.2 339.1L221.8 339.4L222.4 339.6L222.9 339.9L223.5 340.0L224.1 339.8L224.7 339.5L225.2 339.3L225.8 339.1L226.4 339.3L226.9 339.6L227.5 340.0L228.0 340.4L228.6 340.8L229.1 341.6L229.6 342.5L230.2 343.3L230.7 344.1" fill="none" stroke="#2e4a72" stroke-width="0.75" stroke-dasharray="1.4 1.1"/>
<path d="M75.8 344.4L76.3 344.1L76.8 343.7L77.2 343.3L77.5 342.8L77.8 342.3L78.1 341.7L78.3 341.2L78.5 340.6L78.7 340.0L78.9 339.4L79.0 338.8L79.2 338.2L79.3 337.7L79.4 337.1L79.5 336.5L79.6 335.9L79.7 335.3L79.8 334.7L79.8 334.1L79.9 333.5L80.0 332.9L80.1 332.3L80.1 331.7L80.2 331.1L80.3 330.5L80.3 329.9L80.4 329.3L80.4 328.7L80.5 328.1L80.5 327.5L80.6 326.9L80.7 326.3L80.7 325.7L80.8 325.1L80.9 324.5L80.9 323.9L81.0 323.3L81.0 322.7L81.1 322.1L81.2 321.5L81.2 320.9L81.3 320.3L81.3 319.7L81.4 319.1L81.4 318.5L81.5 317.9L81.6 317.3L81.6 316.7L81.7 316.1L81.7 315.5L81.8 314.9L81.8 314.3L81.9 313.7L81.9 313.1L82.0 312.5L82.0 311.9L82.1 311.3L82.1 310.7L82.2 310.1L82.2 309.5L82.3 308.9L82.4 308.3L82.4 307.7L82.5 307.1L82.5 306.5L82.6 305.9L82.6 305.3L82.7 304.7L82.7 304.1L82.8 303.5L82.8 302.9L82.9 302.3L82.9 301.7L83.0 301.1L83.0 300.5L83.1 299.9L83.2 299.3L83.2 298.7L83.3 298.1L83.4 297.5L83.4 296.9L83.5 296.3L83.6 295.7L83.7 295.1L83.7 294.5L83.8 293.9L83.9 293.3L84.0 292.7L84.1 292.1L84.2 291.5L84.4 290.9L84.5 290.3L84.7 289.8L84.9 289.1L85.2 288.4L85.5 287.8L85.8 287.5L86.0 287.6L86.2 288.1L86.5 288.8L86.7 289.6L86.9 290.2L87.0 290.8L87.1 291.4L87.2 292.0L87.3 292.6L87.4 293.2L87.5 293.8L87.6 294.3L87.7 294.9L87.9 295.5L88.0 296.1L88.2 296.7L88.4 297.2L88.7 297.8L88.9 298.3L89.2 298.9L89.5 299.4L89.7 300.0L90.0 300.5L90.3 301.0L90.5 301.6L90.8 302.1L91.0 302.7L91.3 303.2L91.5 303.8L91.8 304.3L92.1 304.9L92.4 305.4L92.6 305.9L93.0 306.4L93.3 306.9L93.6 307.4L94.0 307.9L94.3 308.4L94.7 308.8L95.1 309.3L95.5 309.8L95.9 310.2L96.3 310.7L96.7 311.1L97.1 311.6L97.5 312.0L97.9 312.4L98.4 312.8L98.8 313.2L99.2 313.7L99.6 314.1L100.1 314.6L100.5 315.1L100.9 315.7L101.3 316.2L101.8 316.7L102.2 317.2L102.6 317.5L103.1 317.9L103.5 318.1L104.0 318.3L104.5 318.3L105.0 318.3L105.6 318.4L106.1 318.5L106.7 318.8L107.3 319.4L107.9 320.0L108.4 320.6L109.0 321.2L109.6 321.3L110.1 321.3L110.7 321.4L111.2 321.5L111.7 321.6L112.2 321.9L112.8 322.2L113.3 322.5L113.8 322.8L114.3 323.0L114.9 323.2L115.4 323.5L115.9 323.9L116.4 324.2L117.0 324.7L117.5 325.4L118.0 326.1L118.5 326.9L119.1 327.7L119.6 328.2L120.1 328.2L120.7 328.2L121.2 328.2L121.7 327.8L122.3 327.6L122.8 327.6L123.4 327.6L123.9 327.6L124.5 327.6L125.0 328.0L125.6 328.3L126.2 328.7L126.7 329.1L127.3 329.4L127.9 329.8L128.4 330.3L129.0 330.9L129.6 331.4L130.2 331.5L130.7 331.5L131.3 331.4L131.9 331.3L132.5 331.3L133.1 331.8L133.7 332.3L134.2 332.7L134.8 333.0L135.4 333.3L135.9 333.6L136.5 333.9L137.1 334.2L137.6 334.6L138.2 334.1L138.7 333.7L139.3 333.2L139.8 332.8L140.4 332.8L141.0 333.5L141.5 334.2L142.1 334.8L142.7 335.5L143.3 335.6L143.9 335.7L144.4 335.9L145.0 336.2L145.6 336.4L146.2 336.3L146.8 336.2L147.4 335.9L148.0 335.7L148.6 335.9L149.2 336.1L149.8 336.3L150.4 336.5L151.0 336.7L151.6 336.7L152.2 336.8L152.8 336.9L153.4 337.0L153.9 337.4L154.5 337.8L155.1 338.2L155.7 338.6L156.3 338.4L156.9 338.0L157.5 337.7L158.1 337.3L158.7 337.3L159.3 337.6L159.9 337.7L160.5 337.9L161.1 338.0L161.7 337.9L162.3 337.9L162.9 338.0L163.5 338.2L164.1 337.6L164.7 337.0L165.3 336.3L165.9 335.6L166.5 335.6L167.1 336.3L167.7 336.9L168.3 337.5L168.9 338.0L169.5 338.0L170.1 338.1L170.7 338.1L171.3 338.2L171.9 338.3L172.5 338.3L173.1 338.1L173.7 338.0L174.3 338.0L174.9 338.2L175.5 338.3L176.1 338.8L176.7 339.2L177.4 339.3L178.0 339.4L178.6 339.5L179.2 339.5L179.8 339.1L180.4 338.6L181.0 338.2L181.6 337.8L182.2 337.8L182.8 338.1L183.4 338.4L184.0 338.6L184.6 338.9L185.2 339.1L185.8 339.3L186.4 339.5L187.0 339.8L187.6 339.7L188.2 339.6L188.8 339.5L189.4 339.3L190.0 339.1L190.6 339.0L191.2 338.9L191.8 338.7L192.4 338.7L193.0 339.5L193.6 340.3L194.2 341.1L194.8 341.9L195.4 342.1L196.0 342.3L196.6 342.5L197.2 342.6L197.8 342.9L198.4 343.0L199.0 342.9L199.6 342.9L200.2 342.7L200.8 342.4L201.4 342.0L202.0 341.8L202.6 341.6L203.2 341.1L203.8 340.6L204.4 340.1L205.0 339.5L205.6 339.4L206.2 339.6L206.8 339.9L207.4 340.2L208.0 340.4L208.6 340.6L209.2 340.7L209.8 340.9L210.4 341.0L211.0 340.8L211.6 340.7L212.2 340.5L212.8 340.4L213.4 340.4L214.0 340.4L214.6 340.5L215.2 340.6L215.8 340.7L216.4 341.1L217.0 341.4L217.6 341.8L218.2 342.3L218.8 343.0L219.4 343.6L219.9 344.3L220.5 345.0L221.1 345.0L221.7 344.6L222.3 344.2L222.9 343.9L223.5 343.6L224.1 343.7L224.7 343.8L225.3 343.9L225.9 344.0L226.5 343.9L227.1 343.8L227.7 343.8L228.3 343.7L228.9 344.0L229.5 344.7L230.1 345.4L230.7 345.9" fill="none" stroke="#2e4a72" stroke-width="0.75" stroke-dasharray="1.4 1.1"/>
<path d="M75.8 343.8L76.4 343.7L77.0 343.7L77.6 343.6L78.2 343.6L78.8 343.5L79.4 343.5L80.0 343.4L80.6 343.4L81.2 343.3L81.8 343.2L82.4 343.2L83.0 343.1L83.6 343.0L84.2 343.0L84.8 342.9L85.4 342.9L86.0 342.8L86.6 342.7L87.2 342.7L87.8 342.6L88.5 342.6L89.1 342.5L89.7 342.4L90.2 342.3L90.8 342.2L91.4 342.1L92.0 341.9L92.6 341.7L93.2 341.5L93.7 341.3L94.3 341.0L94.8 340.7L95.2 340.4L95.7 340.0L96.1 339.5L96.5 339.1L97.0 338.6L97.4 338.2L97.8 337.7L98.1 337.2L98.5 336.8L98.9 336.3L99.2 335.8L99.6 335.3L99.9 334.8L100.2 334.2L100.5 333.6L100.8 333.0L101.0 332.3L101.3 331.6L101.5 330.9L101.8 330.2L102.0 329.6L102.3 329.1L102.6 328.7L103.0 328.4L103.3 328.2L103.8 328.2L104.4 328.2L105.1 328.3L105.7 328.3L106.2 328.6L106.7 328.9L107.2 329.3L107.7 329.6L108.3 329.9L108.8 330.3L109.3 330.6L109.8 330.9L110.3 331.2L110.8 331.5L111.3 331.9L111.8 332.3L112.2 332.7L112.7 333.1L113.2 333.3L113.8 333.5L114.3 333.7L114.9 333.8L115.5 333.9L116.0 334.1L116.6 334.2L117.3 334.4L117.9 334.5L118.5 334.6L119.1 334.6L119.7 334.6L120.3 334.6L120.9 334.6L121.5 334.7L122.1 334.8L122.7 335.0L123.3 335.1L123.9 335.2L124.5 335.3L125.1 335.4L125.7 335.4L126.3 335.4L126.9 335.5L127.5 335.5L128.1 335.6L128.7 335.5L129.3 335.5L129.9 335.5L130.5 335.6L131.1 335.8L131.7 336.0L132.3 336.1L133.0 336.3L133.6 336.3L134.2 336.3L134.8 336.4L135.4 336.4L136.0 336.5L136.6 336.5L137.2 336.6L137.8 336.3L138.4 336.1L139.0 335.9L139.6 335.9L140.2 336.1L140.8 336.2L141.4 336.4L142.0 336.5L142.6 337.0L143.2 337.4L143.8 337.8L144.4 338.3L145.0 338.1L145.6 337.8L146.2 337.5L146.8 337.2L147.4 337.2L148.0 337.2L148.6 337.3L149.2 337.3L149.8 337.2L150.4 337.0L151.0 336.9L151.6 336.8L152.2 336.9L152.8 337.1L153.4 337.3L154.0 337.4L154.7 337.4L155.3 337.4L155.9 337.4L156.5 337.4L157.1 337.4L157.7 337.5L158.3 337.7L158.9 337.8L159.5 338.0L160.1 338.2L160.7 338.2L161.3 338.2L161.9 338.2L162.5 338.2L163.1 338.2L163.7 338.2L164.3 338.3L164.9 338.3L165.5 338.4L166.1 338.4L166.7 338.5L167.3 338.6L167.9 338.7L168.5 338.7L169.1 338.5L169.7 338.4L170.3 338.2L170.9 338.1L171.6 338.1L172.2 338.2L172.8 338.3L173.4 338.5L174.0 338.8L174.6 339.1L175.2 339.3L175.8 339.3L176.4 339.2L177.0 339.1L177.6 338.9L178.2 338.8L178.8 338.7L179.4 338.5L180.0 338.3L180.6 338.2L181.2 338.1L181.8 338.3L182.4 338.4L183.0 338.5L183.6 338.7L184.2 338.9L184.8 339.0L185.4 339.2L186.0 339.3L186.6 339.5L187.2 339.6L187.8 339.7L188.5 339.8L189.1 339.8L189.7 339.9L190.3 339.9L190.9 339.9L191.5 339.9L192.1 339.9L192.7 339.9L193.3 339.8L193.9 339.7L194.5 339.6L195.1 339.5L195.7 339.3L196.3 339.2L196.9 339.4L197.5 339.7L198.1 340.2L198.7 340.8L199.3 341.1L199.9 340.9L200.5 340.6L201.1 340.4L201.7 340.1L202.3 340.0L202.9 340.0L203.5 340.1L204.1 340.1L204.8 340.2L205.4 340.2L206.0 340.2L206.6 340.2L207.2 340.3L207.8 340.4L208.4 340.5L209.0 340.6L209.6 340.5L210.2 340.4L210.8 340.3L211.4 340.2L212.0 340.2L212.6 340.3L213.2 340.3L213.8 340.4L214.4 340.4L215.0 340.4L215.6 340.5L216.2 340.5L216.8 340.6L217.4 340.7L218.0 340.9L218.6 341.0L219.2 340.9L219.8 340.7L220.4 340.5L221.0 340.3L221.7 340.5L222.3 340.7L222.9 341.0L223.5 341.3L224.1 341.2L224.7 341.0L225.3 340.8L225.9 340.6L226.5 340.8L227.1 341.1L227.7 341.4L228.3 341.7L228.9 342.0L229.5 342.0" fill="none" stroke="#a82a46" stroke-width="0.7" stroke-dasharray="1.3 1.2" opacity="0.95"/>
<path d="M75.8 344.2L76.4 344.2L77.0 344.2L77.6 344.2L78.2 344.2L78.8 344.1L79.4 344.1L80.0 344.1L80.6 344.1L81.2 344.1L81.8 344.0L82.4 344.0L83.0 344.0L83.6 344.0L84.2 343.9L84.8 343.9L85.5 343.9L86.1 343.8L86.7 343.8L87.3 343.8L87.9 343.7L88.5 343.7L89.1 343.7L89.7 343.6L90.3 343.6L90.9 343.5L91.5 343.5L92.1 343.5L92.7 343.4L93.3 343.4L93.9 343.3L94.5 343.3L95.2 343.2L95.8 343.2L96.3 343.1L96.9 343.0L97.5 342.9L98.0 342.8L98.6 342.6L99.1 342.3L99.6 342.0L100.1 341.7L100.7 341.3L101.2 340.9L101.7 340.6L102.3 340.4L102.8 340.1L103.4 339.9L103.9 339.7L104.5 339.5L105.1 339.3L105.7 339.1L106.2 339.0L106.9 338.9L107.5 338.8L108.1 338.7L108.7 338.6L109.2 338.6L109.8 338.7L110.3 339.0L110.8 339.4L111.4 339.8L111.9 340.0L112.5 340.1L113.1 340.1L113.7 340.2L114.3 340.2L114.9 340.2L115.5 340.3L116.1 340.3L116.7 340.3L117.3 340.3L117.9 340.4L118.5 340.3L119.1 340.3L119.7 340.3L120.3 340.3L120.9 340.3L121.5 340.4L122.2 340.4L122.8 340.5L123.4 340.6L124.0 340.7L124.6 340.7L125.2 340.7L125.8 340.7L126.4 340.6L127.0 340.6L127.6 340.7L128.2 340.7L128.8 340.8L129.4 340.8L130.0 340.9L130.6 341.0L131.2 341.2L131.8 341.3L132.4 341.5L133.0 341.6L133.6 341.6L134.2 341.5L134.8 341.5L135.4 341.5L136.0 341.5L136.6 341.4L137.2 341.3L137.8 341.2L138.4 341.2L139.0 341.1L139.6 341.3L140.2 341.4L140.8 341.5L141.4 341.7L142.0 341.8L142.6 341.9L143.2 341.9L143.8 342.0L144.4 342.1L145.1 342.1L145.7 342.1L146.3 342.0L146.9 342.0L147.5 341.9L148.1 341.9L148.7 341.9L149.3 341.9L149.9 341.9L150.5 341.9L151.1 342.0L151.7 342.0L152.3 342.0L152.9 342.0L153.5 342.0L154.1 342.0L154.7 341.9L155.3 341.9L155.9 341.9L156.5 341.8L157.1 341.8L157.7 342.0L158.3 342.1L158.9 342.3L159.5 342.4L160.1 342.6L160.7 342.5L161.3 342.5L161.9 342.5L162.5 342.5L163.1 342.4L163.7 342.4L164.4 342.4L165.0 342.4L165.6 342.3L166.2 342.3L166.8 342.3L167.4 342.4L168.0 342.4L168.6 342.4L169.2 342.4L169.8 342.4L170.4 342.4L171.0 342.4L171.6 342.4L172.2 342.5L172.8 342.6L173.4 342.7L174.0 342.9L174.6 343.0L175.2 343.1L175.8 342.9L176.4 342.8L177.0 342.7L177.6 342.6L178.2 342.5L178.8 342.4L179.4 342.3L180.0 342.2L180.6 342.2L181.2 342.2L181.8 342.3L182.4 342.5L183.0 342.6L183.7 342.7L184.3 342.9L184.9 342.9L185.5 343.0L186.1 343.1L186.7 343.1L187.3 343.2L187.9 343.2L188.5 343.2L189.1 343.2L189.7 343.1L190.3 343.1L190.9 343.1L191.5 343.0L192.1 342.9L192.7 342.9L193.3 342.8L193.9 342.7L194.5 342.6L195.1 342.6L195.7 342.5L196.3 342.6L196.9 342.9L197.5 343.2L198.1 343.4L198.7 343.7L199.3 343.7L199.9 343.5L200.5 343.3L201.1 343.1L201.7 342.9L202.4 342.9L203.0 343.0L203.6 343.0L204.2 343.1L204.8 343.2L205.4 343.3L206.0 343.2L206.6 343.2L207.2 343.2L207.8 343.2L208.4 343.2L209.0 343.2L209.6 343.1L210.2 343.1L210.8 343.1L211.4 343.1L212.0 343.1L212.6 343.2L213.2 343.2L213.8 343.2L214.4 343.2L215.0 343.1L215.6 343.1L216.2 343.1L216.8 343.0L217.4 343.0L218.0 343.1L218.6 343.1L219.2 343.1L219.8 343.1L220.5 343.2L221.1 343.2L221.7 343.2L222.3 343.3L222.9 343.3L223.5 343.3L224.1 343.4L224.7 343.4L225.3 343.4L225.9 343.5L226.5 343.6L227.1 343.8L227.7 344.0L228.3 344.2L228.9 344.4L229.5 344.2" fill="none" stroke="#a82a46" stroke-width="0.7" stroke-dasharray="1.3 1.2" opacity="0.95"/>
<path d="M75.8 344.0L76.4 343.8L76.9 343.6L77.5 343.4L78.1 343.3L78.7 343.2L79.3 343.2L79.9 343.2L80.5 343.1L81.1 343.1L81.7 343.1L82.3 343.1L82.9 343.0L83.5 343.0L84.1 343.0L84.7 343.0L85.3 343.0L85.9 343.0L86.5 343.0L87.1 342.9L87.7 342.9L88.3 342.9L88.9 342.9L89.5 342.8L90.1 342.8L90.7 342.7L91.3 342.7L91.9 342.6L92.5 342.5L93.1 342.4L93.7 342.4L94.3 342.2L94.9 342.1L95.5 342.0L96.1 341.9L96.7 341.7L97.3 341.5L97.8 341.3L98.3 341.0L98.7 340.6L99.1 340.2L99.6 339.7L100.0 339.3L100.4 338.8L100.8 338.3L101.2 337.8L101.6 337.4L102.0 336.9L102.5 336.5L102.9 336.0L103.3 335.5L103.8 335.1L104.2 334.7L104.7 334.3L105.2 334.1L105.7 333.9L106.3 333.7L106.9 333.6L107.6 333.5L108.1 333.4L108.6 333.4L109.1 333.6L109.5 334.1L109.9 334.6L110.2 335.2L110.6 335.8L111.0 336.3L111.4 336.8L111.8 337.4L112.3 337.8L112.7 337.9L113.3 337.9L113.9 337.9L114.5 337.8L115.2 337.8L115.8 337.8L116.4 337.8L117.0 337.9L117.6 338.0L118.2 338.1L118.8 338.1L119.4 338.2L119.9 338.2L120.5 338.3L121.1 338.3L121.7 338.3L122.3 338.4L122.9 338.5L123.5 338.6L124.1 338.7L124.8 338.6L125.4 338.6L126.0 338.6L126.6 338.6L127.2 338.6L127.8 338.6L128.4 338.7L129.0 338.7L129.6 338.8L130.2 338.8L130.8 339.0L131.4 339.1L132.0 339.3L132.6 339.4L133.2 339.5L133.8 339.5L134.4 339.4L135.0 339.4L135.6 339.4L136.2 339.4L136.8 339.3L137.4 339.2L138.0 339.2L138.6 339.1L139.2 339.1L139.8 339.3L140.4 339.4L141.0 339.6L141.6 339.7L142.2 339.9L142.8 339.9L143.4 340.0L144.0 340.1L144.6 340.1L145.2 340.2L145.8 340.1L146.4 340.1L147.0 340.1L147.6 340.0L148.2 340.0L148.8 340.1L149.4 340.1L150.0 340.1L150.6 340.2L151.2 340.2L151.8 340.2L152.4 340.2L153.0 340.3L153.6 340.3L154.2 340.3L154.8 340.3L155.4 340.2L156.0 340.2L156.6 340.2L157.2 340.2L157.8 340.4L158.5 340.6L159.1 340.8L159.7 340.9L160.3 341.0L160.9 341.0L161.5 341.0L162.1 341.0L162.7 341.0L163.3 341.0L163.9 341.0L164.5 341.0L165.1 341.0L165.7 341.0L166.3 341.0L166.9 341.0L167.5 341.1L168.1 341.1L168.7 341.1L169.3 341.2L169.9 341.2L170.5 341.2L171.1 341.2L171.7 341.3L172.3 341.3L172.9 341.5L173.5 341.6L174.1 341.8L174.7 341.9L175.3 342.0L175.9 341.9L176.5 341.8L177.1 341.7L177.7 341.6L178.3 341.5L178.9 341.4L179.5 341.4L180.1 341.3L180.7 341.2L181.3 341.3L181.9 341.5L182.5 341.6L183.1 341.8L183.7 341.9L184.3 342.1L184.9 342.1L185.5 342.2L186.1 342.3L186.7 342.4L187.3 342.4L187.9 342.4L188.5 342.4L189.1 342.4L189.7 342.4L190.3 342.4L190.9 342.3L191.5 342.3L192.1 342.2L192.8 342.1L193.4 342.1L194.0 342.0L194.6 341.9L195.2 341.9L195.8 341.8L196.4 341.9L197.0 342.2L197.6 342.5L198.2 342.8L198.8 343.0L199.4 343.0L200.0 342.8L200.6 342.6L201.2 342.4L201.8 342.2L202.4 342.2L203.0 342.3L203.6 342.4L204.2 342.4L204.8 342.5L205.4 342.6L206.0 342.6L206.6 342.5L207.2 342.5L207.8 342.5L208.4 342.5L209.0 342.5L209.6 342.5L210.2 342.4L210.8 342.4L211.4 342.4L212.0 342.4L212.6 342.5L213.2 342.5L213.8 342.5L214.4 342.5L215.0 342.4L215.6 342.4L216.2 342.4L216.8 342.3L217.4 342.3L218.0 342.3L218.7 342.4L219.3 342.4L219.9 342.4L220.5 342.4L221.1 342.5L221.7 342.5L222.3 342.5L222.9 342.6L223.5 342.6L224.1 342.6L224.7 342.7L225.3 342.7L225.9 342.7L226.5 342.9L227.1 343.0L227.7 343.2L228.3 343.4L228.9 343.6L229.5 343.4" fill="none" stroke="#b8102f" stroke-width="2.0" stroke-linejoin="round"/>
<path d="M75.8 344.2L76.3 343.9L76.7 343.5L77.1 343.0L77.5 342.5L77.8 342.0L78.1 341.4L78.3 340.9L78.5 340.3L78.6 339.7L78.7 339.2L78.8 338.6L78.9 338.0L78.9 337.4L79.0 336.8L79.1 336.2L79.1 335.6L79.2 335.0L79.2 334.4L79.3 333.8L79.3 333.2L79.4 332.5L79.4 331.9L79.5 331.3L79.5 330.7L79.6 330.1L79.7 329.5L79.7 328.9L79.8 328.3L79.9 327.7L79.9 327.1L80.0 326.5L80.1 325.9L80.1 325.3L80.2 324.7L80.3 324.1L80.3 323.5L80.4 322.9L80.5 322.3L80.5 321.7L80.6 321.1L80.7 320.5L80.7 319.9L80.8 319.3L80.8 318.7L80.9 318.1L80.9 317.5L81.0 316.9L81.0 316.3L81.1 315.7L81.1 315.1L81.2 314.5L81.2 313.9L81.3 313.3L81.3 312.7L81.3 312.1L81.4 311.5L81.4 310.9L81.5 310.3L81.5 309.7L81.6 309.1L81.6 308.5L81.6 307.9L81.7 307.3L81.7 306.7L81.8 306.1L81.8 305.5L81.9 304.9L81.9 304.3L81.9 303.7L82.0 303.1L82.0 302.5L82.1 301.9L82.1 301.3L82.2 300.7L82.2 300.1L82.3 299.5L82.3 298.9L82.3 298.3L82.4 297.7L82.4 297.1L82.5 296.5L82.5 295.9L82.6 295.3L82.6 294.7L82.7 294.1L82.7 293.5L82.8 292.9L82.8 292.3L82.9 291.7L83.0 291.1L83.0 290.5L83.1 289.9L83.1 289.3L83.2 288.7L83.2 288.1L83.3 287.5L83.3 286.9L83.4 286.3L83.4 285.7L83.5 285.1L83.5 284.5L83.5 283.9L83.6 283.3L83.6 282.7L83.6 282.1L83.6 281.5L83.7 280.9L83.7 280.3L83.7 279.7L83.7 279.1L83.8 278.5L83.8 277.9L83.8 277.3L83.9 276.7L83.9 276.1L83.9 275.5L83.9 274.9L84.0 274.3L84.0 273.6L84.1 273.0L84.1 272.2L84.1 271.5L84.2 270.7L84.2 269.9L84.3 269.1L84.3 268.3L84.4 267.6L84.4 266.9L84.5 266.2L84.5 265.6L84.6 265.1L84.6 264.8L84.7 264.5L84.8 264.3L84.8 264.3L84.9 264.5L85.0 264.9L85.0 265.4L85.1 266.1L85.2 266.8L85.3 267.6L85.4 268.4L85.5 269.2L85.5 269.9L85.6 270.5L85.7 271.1L85.8 271.7L85.8 272.3L85.9 272.9L85.9 273.5L86.0 274.2L86.1 274.8L86.1 275.4L86.2 276.0L86.3 276.6L86.4 277.1L86.5 277.7L86.6 278.3L86.7 278.9L86.9 279.5L87.1 280.0L87.4 280.6L87.7 281.1L88.1 281.5L88.5 282.0L88.9 282.4L89.1 283.0L89.3 283.5L89.4 284.1L89.6 284.7L89.7 285.3L89.9 285.9L90.0 286.5L90.2 287.1L90.3 287.7L90.4 288.3L90.6 288.8L90.7 289.4L90.8 290.0L90.9 290.6L91.1 291.2L91.2 291.8L91.3 292.4L91.5 293.0L91.6 293.6L91.7 294.1L91.9 294.7L92.0 295.3L92.2 295.9L92.3 296.5L92.5 297.1L92.7 297.6L92.8 298.2L93.0 298.8L93.2 299.4L93.3 300.0L93.5 300.5L93.7 301.1L93.9 301.7L94.1 302.2L94.3 302.8L94.5 303.4L94.8 304.0L95.0 304.6L95.2 305.1L95.5 305.7L95.8 306.2L96.1 306.6L96.5 307.0L97.0 307.4L97.5 307.8L98.0 308.1L98.5 308.5L99.0 308.9L99.3 309.3L99.7 309.8L100.1 310.3L100.5 310.7L101.0 311.1L101.5 311.5L102.0 312.0L102.5 312.1L103.1 312.1L103.6 312.1L104.2 312.4L104.7 312.7L105.2 313.0L105.7 313.6L106.2 314.1L106.6 314.7L107.1 315.1L107.6 315.4L108.1 315.8L108.5 316.2L108.9 316.6L109.4 317.0L109.8 317.2L110.4 316.9L111.0 316.4L111.6 315.9L112.2 315.9L112.8 316.0L113.3 316.2L113.8 315.9L114.3 315.8L114.8 315.7L115.2 316.7L115.7 317.8L116.2 319.0L116.6 320.0L117.1 320.8L117.6 321.6L118.1 322.3L118.6 322.7L119.2 323.1L119.8 323.4L120.3 323.4L120.9 323.5L121.5 323.5L122.1 323.5L122.7 323.5L123.3 323.1L123.9 322.8L124.4 322.4L125.0 322.8L125.5 323.2L126.0 323.6L126.5 323.8L127.0 324.1L127.5 324.4L128.0 324.8L128.5 325.2L129.0 325.6L129.5 325.6L130.0 325.3L130.6 325.0L131.1 325.5L131.7 326.7L132.2 327.8L132.8 328.5L133.3 328.9L133.9 329.2L134.5 329.2L135.0 329.0L135.6 328.8L136.1 329.2L136.7 329.7L137.3 330.1L137.8 330.4L138.4 330.7L139.0 330.6L139.6 330.0L140.1 329.3L140.7 329.4L141.3 330.3L141.9 331.1L142.5 330.9L143.1 330.4L143.6 330.0L144.2 330.2L144.8 330.4L145.4 330.8L146.0 331.6L146.5 332.4L147.1 332.8L147.7 332.7L148.2 332.7L148.8 332.9L149.3 333.2L149.9 333.4L150.5 333.5L151.1 333.6L151.7 333.7L152.3 334.0L152.9 334.2L153.5 334.4L154.1 334.3L154.7 334.2L155.3 334.4L155.9 334.7L156.5 334.9L157.1 334.8L157.7 334.6L158.3 334.5L158.9 334.4L159.5 334.3L160.1 334.6L160.7 335.1L161.3 335.5L161.9 335.0L162.4 334.5L163.0 334.3L163.6 334.5L164.2 334.7L164.8 335.1L165.4 335.6L166.0 336.1L166.6 335.9L167.2 335.7L167.8 335.6L168.4 335.6L169.0 335.5L169.6 335.4L170.2 335.4L170.8 335.3L171.4 336.1L172.0 337.0L172.6 337.5L173.2 337.3L173.8 337.1L174.4 337.1L175.0 337.2L175.6 337.3L176.2 337.3L176.8 337.3L177.4 337.4L178.0 337.6L178.6 337.9L179.2 337.6L179.8 337.0L180.4 336.5L181.0 337.1L181.6 337.8L182.2 338.2L182.8 337.6L183.4 337.1L184.0 337.2L184.6 337.6L185.2 337.9L185.8 338.4L186.4 338.8L187.0 339.1L187.6 339.1L188.2 339.1L188.8 339.0L189.3 339.0L189.9 339.0L190.5 339.1L191.1 339.3L191.7 339.2L192.3 338.4L192.9 337.6L193.5 337.4L194.1 337.8L194.7 338.2L195.3 339.0L195.9 339.9L196.6 340.6L197.2 341.1L197.8 341.6L198.4 341.3L199.0 340.5L199.6 339.6L200.2 340.1L200.8 340.8L201.4 341.2L202.0 341.1L202.6 341.0L203.2 340.8L203.8 340.4L204.4 340.0L205.0 339.7L205.6 339.3L206.2 339.1L206.8 339.3L207.4 339.4L208.0 339.7L208.6 340.0L209.2 340.4L209.8 340.1L210.4 339.8L211.0 339.4L211.6 339.1L212.2 338.8L212.8 338.9L213.4 339.3L214.0 339.7L214.6 340.1L215.2 340.5L215.8 340.7L216.4 340.5L217.0 340.3L217.6 340.3L218.2 340.5L218.8 340.7L219.4 341.2L220.0 341.8L220.6 342.0L221.2 341.3L221.8 340.7L222.4 340.9L223.0 341.7L223.6 342.5L224.2 342.2L224.7 341.8L225.3 341.7L225.9 342.2L226.5 342.7L227.1 343.1L227.7 343.4L228.3 343.7L228.9 343.7L229.5 343.8L230.1 343.8L230.7 343.5" fill="none" stroke="#173f78" stroke-width="2.2" stroke-linejoin="round"/>
<line x1="60.4" y1="240.1" x2="60.4" y2="364.2" stroke="#1a1a1a" stroke-width="1.6"/>
<line x1="59.699999999999996" y1="363.5" x2="246.5" y2="363.5" stroke="#1a1a1a" stroke-width="1.6"/>
<line x1="56.1" y1="260.5" x2="60.4" y2="260.5" stroke="#1a1a1a" stroke-width="1.4"/>
<text x="31.09" y="263.90" font-size="12.6" fill="#2b2b2b" textLength="20.39" lengthAdjust="spacingAndGlyphs">120</text>
<line x1="56.1" y1="288.1" x2="60.4" y2="288.1" stroke="#1a1a1a" stroke-width="1.4"/>
<text x="37.88" y="291.50" font-size="12.6" fill="#2b2b2b" textLength="13.59" lengthAdjust="spacingAndGlyphs">80</text>
<line x1="56.1" y1="315.7" x2="60.4" y2="315.7" stroke="#1a1a1a" stroke-width="1.4"/>
<text x="37.88" y="319.10" font-size="12.6" fill="#2b2b2b" textLength="13.59" lengthAdjust="spacingAndGlyphs">40</text>
<line x1="56.1" y1="343.3" x2="60.4" y2="343.3" stroke="#1a1a1a" stroke-width="1.4"/>
<text x="44.68" y="346.70" font-size="12.6" fill="#2b2b2b" textLength="6.80" lengthAdjust="spacingAndGlyphs">0</text>
<line x1="75.8" y1="363.5" x2="75.8" y2="367.6" stroke="#1a1a1a" stroke-width="1.4"/>
<text x="72.40" y="383.10" font-size="12.6" fill="#2b2b2b" textLength="6.80" lengthAdjust="spacingAndGlyphs">0</text>
<line x1="127.3" y1="363.5" x2="127.3" y2="367.6" stroke="#1a1a1a" stroke-width="1.4"/>
<text x="120.29" y="383.10" font-size="12.6" fill="#2b2b2b" textLength="13.59" lengthAdjust="spacingAndGlyphs">15</text>
<line x1="178.7" y1="363.5" x2="178.7" y2="367.6" stroke="#1a1a1a" stroke-width="1.4"/>
<text x="171.91" y="383.10" font-size="12.6" fill="#2b2b2b" textLength="13.59" lengthAdjust="spacingAndGlyphs">30</text>
<line x1="230.1" y1="363.5" x2="230.1" y2="367.6" stroke="#1a1a1a" stroke-width="1.4"/>
<text x="223.42" y="383.10" font-size="12.6" fill="#2b2b2b" textLength="13.59" lengthAdjust="spacingAndGlyphs">45</text>
<text x="131.95" y="403.00" font-size="13.8" fill="#2b2b2b" textLength="24.54" lengthAdjust="spacingAndGlyphs" stroke="#2b2b2b" stroke-width="0.22">Time</text>
<text x="158.61" y="403.00" font-size="13.8" fill="#2b2b2b" textLength="28.87" lengthAdjust="spacingAndGlyphs" stroke="#2b2b2b" stroke-width="0.22">(min)</text>
<g transform="translate(22.40,0) rotate(-90)"><text x="-339.76" y="0.00" font-size="14.4" fill="#2b2b2b" textLength="48.71" lengthAdjust="spacingAndGlyphs" stroke="#2b2b2b" stroke-width="0.22">Thrombin</text><text x="-288.06" y="0.00" font-size="14.4" fill="#2b2b2b" textLength="25.22" lengthAdjust="spacingAndGlyphs" stroke="#2b2b2b" stroke-width="0.22">(nM)</text></g>
<line x1="61.9" y1="343.3" x2="246.5" y2="343.3" stroke="#222" stroke-width="1" stroke-dasharray="1.1 1.9"/>
<line x1="156.5" y1="250.7" x2="174.9" y2="250.7" stroke="#173f78" stroke-width="1.8"/>
<text x="179.78" y="253.60" font-size="11.8" font-style="italic" fill="#2b2b2b" textLength="17.22" lengthAdjust="spacingAndGlyphs">f10</text>
<text x="197.07" y="248.40" font-size="6.9" fill="#2b2b2b" textLength="10.28" lengthAdjust="spacingAndGlyphs">WT</text>
<text x="213.26" y="254.00" font-size="10.4" fill="#2b2b2b" textLength="34.67" lengthAdjust="spacingAndGlyphs">(n = 9)</text>
<line x1="156.5" y1="272.5" x2="174.9" y2="272.5" stroke="#b8102f" stroke-width="1.8"/>
<text x="179.78" y="275.40" font-size="11.8" font-style="italic" fill="#2b2b2b" textLength="17.22" lengthAdjust="spacingAndGlyphs">f10</text>
<text x="196.59" y="270.90" font-size="6.6" fill="#2b2b2b" textLength="11.39" lengthAdjust="spacingAndGlyphs">low</text>
<text x="211.09" y="275.80" font-size="10.4" fill="#2b2b2b" textLength="33.63" lengthAdjust="spacingAndGlyphs">(n = 9)</text>
<path d="M336.5 344.0 L337.2 343.8 L337.8 343.6 L338.2 343.3 L338.4 343.0 L338.5 342.5 L338.6 341.9 L338.8 341.3 L338.8 340.7 L338.9 340.0 L339.0 339.3 L339.0 338.6 L339.1 338.0 L339.1 337.4 L339.2 336.8 L339.2 336.2 L339.3 335.6 L339.3 335.0 L339.4 334.4 L339.4 333.8 L339.4 333.2 L339.5 332.6 L339.5 332.0 L339.5 331.4 L339.6 330.8 L339.6 330.2 L339.6 329.6 L339.6 329.0 L339.7 328.4 L339.7 327.8 L339.7 327.2 L339.7 326.6 L339.8 326.0 L339.8 325.4 L339.8 324.8 L339.8 324.2 L339.8 323.6 L339.9 323.0 L339.9 322.4 L339.9 321.8 L339.9 321.2 L340.0 320.6 L340.0 320.0 L340.0 319.4 L340.0 318.8 L340.0 318.2 L340.1 317.6 L340.1 317.0 L340.1 316.4 L340.1 315.8 L340.1 315.2 L340.2 314.6 L340.2 314.0 L340.2 313.4 L340.2 312.8 L340.2 312.2 L340.3 311.6 L340.3 311.0 L340.3 310.4 L340.3 309.8 L340.3 309.2 L340.4 308.6 L340.4 308.0 L340.4 307.4 L340.4 306.8 L340.4 306.2 L340.4 305.6 L340.5 305.0 L340.5 304.4 L340.5 303.8 L340.5 303.2 L340.5 302.6 L340.5 302.0 L340.6 301.4 L340.6 300.8 L340.6 300.2 L340.6 299.6 L340.6 299.0 L340.6 298.4 L340.7 297.8 L340.7 297.2 L340.7 296.6 L340.7 295.9 L340.7 295.3 L340.7 294.7 L340.7 294.1 L340.8 293.5 L340.8 292.9 L340.8 292.3 L340.8 291.7 L340.8 291.1 L340.8 290.5 L340.8 289.9 L340.9 289.3 L340.9 288.7 L340.9 288.1 L340.9 287.5 L340.9 286.9 L340.9 286.3 L340.9 285.7 L340.9 285.1 L341.0 284.5 L341.0 283.9 L341.0 283.3 L341.0 282.7 L341.0 282.1 L341.0 281.5 L341.0 280.9 L341.1 280.3 L341.1 279.7 L341.1 279.1 L341.1 278.5 L341.1 277.9 L341.1 277.3 L341.2 276.7 L341.2 276.1 L341.2 275.5 L341.2 274.9 L341.2 274.3 L341.2 273.7 L341.3 273.1 L341.3 272.5 L341.3 271.9 L341.3 271.3 L341.3 270.7 L341.3 270.1 L341.4 269.5 L341.4 268.9 L341.4 268.3 L341.4 267.7 L341.4 267.1 L341.4 266.5 L341.5 265.9 L341.5 265.3 L341.5 264.7 L341.5 264.1 L341.5 263.5 L341.6 262.9 L341.6 262.3 L341.6 261.7 L341.6 261.1 L341.7 260.5 L341.7 259.9 L341.7 259.3 L341.7 258.7 L341.8 258.1 L341.8 257.5 L341.8 256.9 L341.8 256.3 L341.9 255.7 L341.9 255.1 L341.9 254.5 L342.0 253.9 L342.0 253.3 L342.0 252.7 L342.0 252.1 L342.1 251.5 L342.1 250.9 L342.2 250.3 L342.2 249.7 L342.2 249.1 L342.3 248.5 L342.3 247.9 L342.4 247.3 L342.4 246.7 L342.5 246.1 L342.5 245.5 L342.6 244.9 L342.6 244.3 L342.7 243.7 L342.8 243.1 L342.8 242.5 L342.9 241.9 L343.0 241.2 L343.1 240.5 L343.3 239.7 L343.5 239.0 L343.6 238.3 L343.8 237.9 L344.0 237.6 L344.2 237.7 L344.4 238.1 L344.7 238.8 L344.9 239.6 L345.1 240.2 L345.2 240.8 L345.4 241.6 L345.5 242.4 L345.6 243.1 L345.8 243.8 L345.9 244.5 L346.1 245.0 L346.2 245.4 L346.4 245.5 L346.6 245.4 L346.8 244.9 L347.0 244.2 L347.2 243.5 L347.5 242.8 L347.7 242.2 L348.0 241.5 L348.3 240.8 L348.5 240.2 L348.7 240.0 L348.8 240.1 L349.0 240.6 L349.1 241.2 L349.2 241.9 L349.3 242.7 L349.4 243.5 L349.5 244.1 L349.6 244.7 L349.7 245.3 L349.8 245.9 L349.8 246.5 L349.9 247.1 L350.0 247.7 L350.0 248.3 L350.1 248.9 L350.2 249.5 L350.2 250.1 L350.3 250.7 L350.3 251.3 L350.4 251.9 L350.4 252.5 L350.5 253.1 L350.5 253.7 L350.6 254.3 L350.6 254.9 L350.7 255.5 L350.7 256.1 L350.8 256.7 L350.8 257.3 L350.8 257.9 L350.9 258.5 L350.9 259.1 L351.0 259.7 L351.0 260.3 L351.0 260.9 L351.1 261.5 L351.1 262.1 L351.2 262.7 L351.2 263.3 L351.3 263.9 L351.3 264.5 L351.4 265.1 L351.4 265.7 L351.4 266.3 L351.5 266.9 L351.5 267.5 L351.6 268.1 L351.6 268.7 L351.7 269.3 L351.7 269.9 L351.7 270.5 L351.8 271.1 L351.8 271.7 L351.9 272.3 L351.9 272.9 L352.0 273.5 L352.0 274.1 L352.1 274.7 L352.1 275.3 L352.2 275.8 L352.2 276.4 L352.3 277.0 L352.4 277.6 L352.4 278.2 L352.5 278.8 L352.5 279.4 L352.6 280.0 L352.6 280.6 L352.7 281.2 L352.8 281.8 L352.8 282.4 L352.9 283.0 L353.0 283.6 L353.1 284.2 L353.1 284.8 L353.2 285.4 L353.3 286.0 L353.4 286.6 L353.5 287.2 L353.6 287.8 L353.7 288.4 L353.8 289.0 L353.9 289.6 L354.0 290.2 L354.1 290.7 L354.3 291.3 L354.4 291.9 L354.6 292.5 L354.8 293.1 L354.9 293.7 L355.1 294.2 L355.3 294.8 L355.5 295.4 L355.7 295.9 L355.9 296.5 L356.1 297.1 L356.3 297.6 L356.5 298.2 L356.8 298.8 L357.0 299.3 L357.3 299.9 L357.6 300.4 L357.9 300.9 L358.2 301.4 L358.5 301.9 L358.8 302.4 L359.1 302.9 L359.4 303.4 L359.8 304.0 L360.2 304.5 L360.5 305.0 L360.9 305.6 L361.3 306.1 L361.8 306.6 L362.2 307.1 L362.6 307.5 L363.1 307.9 L363.5 308.3 L364.0 308.7 L364.4 309.0 L364.9 309.2 L365.5 309.5 L366.0 309.7 L366.6 309.8 L367.2 309.9 L367.8 310.1 L368.4 310.3 L369.0 310.6 L369.6 310.7 L370.1 310.7 L370.7 310.8 L371.3 310.8 L371.9 310.9 L372.4 311.3 L372.9 311.6 L373.4 312.0 L374.0 312.4 L374.5 312.8 L375.0 313.0 L375.5 313.2 L376.0 313.5 L376.5 313.7 L377.1 314.0 L377.6 314.6 L378.1 315.3 L378.7 316.1 L379.2 316.9 L379.8 317.4 L380.3 317.7 L380.9 318.1 L381.4 317.9 L382.0 317.6 L382.5 317.0 L383.1 316.5 L383.7 315.9 L384.2 315.4 L384.8 315.3 L385.4 315.6 L385.9 316.0 L386.5 316.4 L387.0 316.8 L387.6 316.9 L388.2 316.4 L388.7 315.5 L389.3 315.9 L389.8 317.5 L390.4 318.7 L390.9 319.4 L391.4 319.9 L392.0 320.5 L392.5 321.1 L393.1 321.8 L393.6 322.4 L394.1 323.1 L394.7 323.8 L395.2 323.9 L395.7 323.1 L396.3 321.6 L396.8 319.8 L397.3 319.6 L397.9 321.1 L398.4 322.5 L399.0 323.1 L399.5 323.6 L400.0 324.1 L400.6 324.7 L401.2 325.5 L401.7 326.4 L402.3 327.3 L402.8 328.3 L403.4 327.9 L403.9 327.0 L404.5 325.4 L405.0 324.2 L405.6 324.6 L406.2 325.7 L406.7 326.1 L407.3 326.1 L407.8 326.0 L408.4 326.3 L409.0 326.7 L409.5 327.1 L410.1 327.5 L410.7 327.5 L411.3 326.2 L411.8 324.7 L412.4 325.0 L413.0 326.3 L413.6 327.5 L414.1 328.5 L414.7 329.3 L415.3 330.1 L415.9 331.0 L416.4 331.1 L417.0 331.3 L417.6 331.4 L418.2 331.5 L418.8 331.7 L419.4 331.9 L419.9 331.6 L420.5 330.6 L421.1 330.3 L421.7 331.5 L422.3 332.7 L422.9 333.2 L423.5 333.4 L424.1 333.8 L424.7 334.2 L425.3 334.7 L425.9 335.2 L426.5 335.1 L427.1 333.8 L427.7 331.7 L428.2 331.0 L428.8 332.0 L429.4 333.1 L430.0 333.4 L430.6 333.5 L431.2 333.6 L431.8 333.0 L432.4 332.5 L433.0 332.1 L433.6 331.7 L434.2 331.8 L434.8 332.6 L435.4 332.4 L436.0 332.0 L436.6 333.8 L437.2 334.7 L437.8 334.7 L438.4 334.2 L439.0 333.9 L439.6 334.1 L440.2 333.2 L440.8 331.7 L441.4 332.7 L442.0 335.2 L442.6 336.0 L443.2 335.5 L443.8 334.9 L444.4 334.2 L445.0 333.9 L445.6 333.6 L446.2 333.6 L446.8 333.7 L447.3 333.9 L447.9 334.2 L448.5 334.2 L449.1 333.2 L449.7 331.4 L450.3 331.6 L450.9 333.9 L451.5 335.2 L452.1 335.4 L452.7 335.6 L453.3 335.7 L453.9 335.8 L454.5 335.9 L455.1 335.8 L455.7 335.3 L456.3 334.0 L456.9 332.8 L457.5 333.7 L458.1 335.5 L458.7 336.3 L459.3 336.6 L459.9 336.7 L460.5 337.0 L461.1 337.4 L461.7 337.7 L462.3 337.9 L462.9 336.8 L463.5 333.5 L464.1 331.6 L464.7 333.1 L465.3 334.6 L465.9 335.0 L466.5 335.3 L467.1 335.5 L467.7 335.2 L468.3 333.1 L468.9 330.8 L469.5 332.3 L470.1 335.4 L470.7 336.9 L471.3 337.6 L471.9 338.1 L472.5 338.5 L473.1 338.7 L473.7 338.5 L474.3 338.3 L474.9 338.2 L475.5 338.0 L476.1 337.5 L476.7 337.1 L477.3 335.7 L477.9 333.9 L478.5 335.0 L479.1 337.5 L479.6 338.7 L480.2 338.8 L480.8 338.9 L481.4 339.1 L482.0 339.3 L482.6 339.2 L483.2 338.4 L483.8 336.7 L484.4 336.8 L485.0 337.9 L485.6 338.2 L486.2 338.0 L486.8 338.1 L487.4 338.1 L488.0 338.1 L488.6 338.2 L489.2 338.6 L489.8 338.8 L490.4 338.5 L491.0 338.3 L491.6 339.1 L492.1 339.9 L492.7 340.0 L493.3 339.8 L493.9 339.6 L494.5 339.8 L495.1 339.9 L495.7 339.5 L496.3 337.8 L496.9 335.6 L497.5 336.6 L498.1 338.9 L498.7 339.8 L499.3 340.2 L499.8 341.0 L500.4 341.3 L501.0 341.5 L501.6 341.8 L502.2 342.5 L502.8 343.3 L502.8 344.5 L502.2 344.4 L501.6 344.3 L501.0 344.2 L500.4 344.2 L499.8 343.9 L499.2 343.3 L498.6 343.1 L498.0 343.1 L497.4 343.1 L496.8 343.1 L496.2 343.3 L495.6 343.3 L495.0 343.3 L494.4 343.4 L493.8 343.4 L493.2 343.4 L492.6 343.2 L492.0 343.0 L491.4 342.8 L490.8 342.9 L490.2 343.0 L489.6 343.1 L489.0 343.4 L488.4 343.5 L487.8 343.3 L487.2 343.2 L486.6 343.1 L486.0 343.0 L485.4 343.1 L484.8 343.2 L484.2 343.4 L483.6 343.5 L482.9 343.9 L482.3 344.4 L481.7 344.9 L481.1 345.5 L480.5 345.9 L479.9 346.2 L479.3 346.3 L478.7 346.1 L478.1 345.9 L477.5 345.2 L476.9 344.5 L476.3 343.8 L475.7 343.6 L475.1 343.3 L474.5 343.1 L473.9 342.8 L473.3 342.5 L472.7 342.7 L472.1 343.1 L471.5 343.5 L470.9 344.0 L470.3 344.2 L469.7 343.3 L469.1 342.5 L468.5 341.7 L467.9 340.9 L467.3 341.2 L466.7 341.8 L466.1 342.4 L465.5 343.4 L464.9 344.0 L464.3 343.9 L463.7 343.8 L463.1 343.7 L462.5 343.6 L461.9 343.5 L461.3 343.5 L460.7 343.5 L460.1 343.5 L459.5 342.8 L458.9 341.9 L458.3 340.9 L457.7 339.9 L457.1 339.5 L456.5 339.9 L456.0 340.3 L455.4 340.8 L454.8 341.3 L454.2 341.9 L453.6 342.5 L453.0 343.1 L452.4 343.6 L451.8 343.1 L451.2 342.4 L450.6 341.6 L450.0 340.9 L449.4 340.1 L448.8 339.3 L448.2 338.8 L447.6 338.2 L447.0 337.7 L446.4 338.6 L445.8 339.4 L445.2 340.5 L444.6 341.7 L444.0 341.8 L443.4 341.3 L442.8 340.8 L442.2 340.4 L441.6 339.4 L441.0 339.2 L440.4 339.0 L439.8 338.7 L439.2 338.5 L438.6 338.4 L438.0 338.7 L437.4 339.1 L436.8 339.5 L436.2 339.9 L435.6 340.5 L435.0 340.7 L434.4 340.7 L433.9 340.6 L433.3 340.2 L432.7 339.8 L432.1 339.4 L431.5 339.4 L430.9 338.9 L430.3 338.4 L429.7 337.9 L429.1 337.4 L428.5 337.3 L427.9 337.3 L427.3 337.3 L426.7 337.4 L426.1 337.4 L425.5 337.5 L424.9 337.6 L424.3 337.8 L423.7 338.0 L423.1 337.6 L422.5 337.0 L421.9 336.4 L421.3 336.0 L420.7 336.0 L420.1 336.3 L419.5 336.6 L418.9 336.9 L418.3 337.0 L417.7 336.2 L417.1 335.4 L416.5 334.6 L415.9 333.8 L415.3 333.7 L414.7 333.8 L414.1 333.9 L413.6 334.1 L413.0 334.2 L412.4 334.2 L411.8 334.3 L411.2 334.3 L410.6 334.4 L410.0 334.1 L409.4 333.8 L408.9 333.5 L408.3 333.3 L407.7 333.2 L407.1 333.2 L406.5 333.2 L406.0 333.2 L405.4 333.1 L404.8 333.2 L404.2 332.9 L403.7 332.6 L403.1 332.4 L402.5 332.3 L401.9 332.3 L401.4 332.4 L400.8 332.6 L400.3 332.9 L399.7 332.8 L399.1 332.7 L398.6 332.5 L398.0 332.4 L397.5 332.2 L396.9 332.0 L396.4 331.8 L395.8 331.7 L395.3 331.5 L394.7 331.3 L394.2 331.0 L393.7 330.6 L393.1 330.2 L392.6 329.8 L392.0 329.2 L391.5 328.6 L390.9 328.1 L390.4 327.6 L389.8 327.1 L389.2 326.6 L388.7 326.1 L388.1 325.6 L387.5 325.2 L387.0 325.0 L386.4 325.0 L385.8 325.0 L385.2 325.0 L384.7 325.0 L384.1 324.9 L383.5 325.1 L382.9 325.2 L382.3 325.4 L381.7 325.8 L381.2 326.5 L380.6 326.6 L380.0 326.6 L379.4 326.6 L378.8 325.9 L378.2 325.2 L377.6 324.6 L377.0 324.1 L376.4 324.0 L375.8 323.9 L375.2 323.9 L374.6 323.8 L374.0 323.8 L373.4 323.7 L372.8 323.6 L372.2 323.5 L371.6 323.4 L371.0 323.5 L370.4 323.5 L369.8 323.5 L369.2 323.4 L368.6 323.3 L368.0 323.1 L367.4 322.9 L366.9 322.9 L366.4 322.8 L366.0 322.5 L365.6 322.1 L365.3 321.6 L364.9 321.1 L364.6 320.5 L364.2 320.1 L363.8 319.6 L363.5 319.0 L363.1 318.5 L362.7 318.0 L362.3 317.5 L361.9 317.0 L361.5 316.5 L361.1 316.0 L360.8 315.4 L360.4 314.9 L360.0 314.5 L359.7 314.0 L359.3 313.5 L359.0 313.0 L358.6 312.5 L358.3 312.0 L357.9 311.5 L357.6 311.0 L357.2 310.4 L356.9 309.9 L356.6 309.4 L356.3 308.9 L356.0 308.3 L355.7 307.8 L355.4 307.3 L355.2 306.7 L355.0 306.2 L354.8 305.6 L354.6 305.1 L354.4 304.5 L354.3 304.0 L354.1 303.4 L354.0 302.8 L353.8 302.2 L353.7 301.6 L353.6 301.0 L353.4 300.4 L353.3 299.8 L353.2 299.2 L353.1 298.6 L353.0 298.0 L352.9 297.4 L352.8 296.8 L352.7 296.2 L352.6 295.6 L352.5 295.0 L352.4 294.4 L352.3 293.9 L352.2 293.3 L352.1 292.7 L352.0 292.1 L351.9 291.5 L351.9 290.9 L351.8 290.3 L351.7 289.7 L351.6 289.1 L351.6 288.5 L351.5 287.9 L351.4 287.3 L351.4 286.7 L351.3 286.1 L351.2 285.5 L351.2 284.9 L351.1 284.3 L351.1 283.7 L351.0 283.1 L350.9 282.5 L350.9 281.9 L350.8 281.3 L350.8 280.7 L350.7 280.1 L350.7 279.5 L350.6 278.9 L350.6 278.3 L350.5 277.7 L350.5 277.1 L350.4 276.5 L350.4 275.9 L350.3 275.3 L350.3 274.7 L350.3 274.1 L350.2 273.5 L350.2 272.9 L350.1 272.3 L350.1 271.7 L350.0 271.1 L350.0 270.5 L349.9 269.9 L349.9 269.3 L349.8 268.7 L349.7 268.1 L349.7 267.5 L349.6 266.9 L349.5 266.2 L349.4 265.5 L349.2 264.7 L349.0 264.0 L348.8 263.5 L348.6 263.1 L348.5 263.0 L348.2 263.3 L347.9 263.8 L347.6 264.5 L347.4 265.2 L347.2 265.9 L347.1 266.5 L347.0 267.0 L347.0 267.6 L346.9 268.2 L346.8 268.8 L346.8 269.4 L346.7 270.0 L346.7 270.6 L346.6 271.2 L346.6 271.8 L346.5 272.4 L346.5 273.0 L346.4 273.7 L346.4 274.3 L346.4 274.9 L346.3 275.5 L346.3 276.1 L346.3 276.7 L346.2 277.3 L346.2 277.9 L346.2 278.5 L346.1 279.1 L346.1 279.7 L346.1 280.3 L346.0 280.9 L346.0 281.5 L346.0 282.1 L345.9 282.7 L345.9 283.3 L345.9 283.9 L345.9 284.5 L345.8 285.1 L345.8 285.7 L345.8 286.3 L345.7 286.9 L345.7 287.5 L345.7 288.1 L345.7 288.7 L345.6 289.3 L345.6 289.9 L345.6 290.5 L345.5 291.1 L345.5 291.7 L345.5 292.3 L345.5 292.9 L345.4 293.5 L345.4 294.1 L345.4 294.7 L345.3 295.3 L345.3 295.9 L345.3 296.5 L345.2 297.1 L345.2 297.7 L345.1 298.3 L345.1 298.9 L345.1 299.5 L345.0 300.1 L345.0 300.7 L345.0 301.3 L344.9 301.9 L344.9 302.5 L344.9 303.1 L344.8 303.7 L344.8 304.3 L344.7 304.9 L344.7 305.5 L344.7 306.1 L344.6 306.7 L344.6 307.3 L344.5 307.9 L344.5 308.5 L344.5 309.1 L344.4 309.7 L344.4 310.3 L344.3 310.9 L344.3 311.5 L344.2 312.1 L344.2 312.7 L344.2 313.3 L344.1 313.9 L344.1 314.5 L344.0 315.1 L344.0 315.7 L343.9 316.3 L343.9 316.9 L343.8 317.5 L343.8 318.1 L343.7 318.7 L343.7 319.3 L343.6 319.9 L343.6 320.5 L343.5 321.1 L343.5 321.7 L343.4 322.3 L343.3 322.9 L343.3 323.5 L343.2 324.1 L343.2 324.7 L343.1 325.3 L343.0 325.9 L343.0 326.5 L342.9 327.1 L342.8 327.7 L342.8 328.3 L342.7 328.9 L342.6 329.5 L342.6 330.1 L342.5 330.7 L342.4 331.3 L342.3 331.9 L342.2 332.5 L342.2 333.1 L342.1 333.7 L342.0 334.3 L341.9 334.9 L341.8 335.5 L341.7 336.1 L341.6 336.7 L341.4 337.3 L341.3 337.9 L341.2 338.4 L341.1 339.0 L340.9 339.6 L340.8 340.2 L340.6 340.8 L340.4 341.4 L340.1 342.1 L339.9 342.7 L339.6 343.2 L339.3 343.6 L338.9 343.9 L338.4 344.1 L337.8 344.2 L337.2 344.4 L336.5 344.4Z" fill="#d3e7f7" stroke="none"/>
<path d="M336.5 343.8 L337.1 343.7 L337.7 343.6 L338.3 343.4 L338.9 343.3 L339.5 343.2 L340.1 343.2 L340.7 343.2 L341.3 343.1 L341.9 343.1 L342.5 343.1 L343.1 343.1 L343.7 343.1 L344.3 343.0 L344.9 343.0 L345.5 343.0 L346.2 343.0 L346.8 343.0 L347.4 343.0 L348.0 343.0 L348.6 343.0 L349.3 342.9 L349.9 342.9 L350.5 342.9 L351.1 342.9 L351.7 342.9 L352.4 342.9 L353.0 342.9 L353.6 342.9 L354.2 342.9 L354.8 342.9 L355.4 342.9 L356.0 342.9 L356.7 342.9 L357.3 342.9 L357.9 342.9 L358.5 342.9 L359.1 342.8 L359.7 342.8 L360.3 342.8 L360.9 342.8 L361.5 342.8 L362.0 342.8 L362.6 342.8 L363.2 342.7 L363.8 342.7 L364.4 342.7 L364.9 342.7 L365.5 342.6 L366.0 342.6 L366.6 342.5 L367.1 342.4 L367.7 342.1 L368.2 341.9 L368.8 341.5 L369.3 341.2 L369.8 340.8 L370.3 340.5 L370.9 340.1 L371.4 339.7 L371.9 339.4 L372.4 339.0 L372.8 338.6 L373.3 338.2 L373.7 337.7 L374.2 337.3 L374.6 336.8 L375.1 336.3 L375.5 335.9 L376.0 335.4 L376.4 335.0 L376.9 334.7 L377.4 334.4 L377.9 334.1 L378.4 333.9 L378.9 333.8 L379.5 333.6 L380.1 333.5 L380.7 333.4 L381.3 333.3 L381.9 333.3 L382.5 333.2 L383.1 333.2 L383.7 333.2 L384.3 333.3 L384.9 333.4 L385.5 333.5 L386.1 333.7 L386.7 333.9 L387.2 334.1 L387.8 334.3 L388.4 334.5 L389.0 334.6 L389.6 334.8 L390.2 334.9 L390.8 335.0 L391.4 335.1 L392.0 335.2 L392.6 335.2 L393.2 335.3 L393.8 335.4 L394.4 335.5 L395.0 335.5 L395.6 335.6 L396.2 335.7 L396.8 335.7 L397.4 335.8 L398.0 335.9 L398.6 336.0 L399.2 336.1 L399.8 336.1 L400.4 336.1 L401.0 336.2 L401.6 336.2 L402.2 336.2 L402.8 336.2 L403.4 336.3 L404.0 336.4 L404.6 336.5 L405.2 336.6 L405.8 336.7 L406.4 336.9 L407.0 337.0 L407.6 337.1 L408.2 337.1 L408.8 337.2 L409.4 337.3 L410.0 337.4 L410.6 337.4 L411.2 337.5 L411.8 337.5 L412.4 337.5 L413.0 337.6 L413.6 337.6 L414.2 337.6 L414.8 337.7 L415.4 337.7 L416.0 337.7 L416.6 337.7 L417.2 337.7 L417.8 337.6 L418.4 337.5 L419.0 337.5 L419.6 337.6 L420.2 337.7 L420.8 337.9 L421.4 338.1 L422.0 338.3 L422.6 338.5 L423.2 338.7 L423.8 338.9 L424.4 339.0 L425.0 339.0 L425.6 339.1 L426.2 339.2 L426.8 339.2 L427.4 339.1 L428.0 339.1 L428.6 339.1 L429.2 339.1 L429.8 339.2 L430.4 339.2 L431.0 339.3 L431.6 339.3 L432.2 339.4 L432.8 339.4 L433.4 339.5 L434.0 339.7 L434.6 339.8 L435.2 339.9 L435.8 340.1 L436.4 340.1 L437.0 340.2 L437.6 340.3 L438.2 340.3 L438.8 340.4 L439.4 340.4 L440.0 340.4 L440.6 340.4 L441.2 340.4 L441.8 340.3 L442.4 340.2 L443.0 340.1 L443.7 339.9 L444.3 339.8 L444.9 339.9 L445.5 340.1 L446.1 340.3 L446.7 340.6 L447.3 340.8 L447.9 340.8 L448.5 340.8 L449.1 340.9 L449.7 340.9 L450.3 340.9 L450.9 340.9 L451.5 340.8 L452.1 340.8 L452.7 340.8 L453.3 340.9 L453.9 341.0 L454.5 341.1 L455.1 341.1 L455.7 341.0 L456.3 341.0 L456.9 341.0 L457.5 341.0 L458.1 341.1 L458.7 341.1 L459.3 341.0 L459.9 340.8 L460.5 340.7 L461.1 340.5 L461.8 340.4 L462.4 340.5 L463.0 340.7 L463.6 340.9 L464.2 341.1 L464.8 341.4 L465.4 341.6 L466.0 341.7 L466.6 341.7 L467.2 341.7 L467.8 341.7 L468.4 341.7 L469.0 341.7 L469.6 341.7 L470.2 341.8 L470.8 341.9 L471.4 342.0 L472.0 342.1 L472.6 342.3 L473.2 342.5 L473.8 342.7 L474.4 342.7 L475.0 342.6 L475.6 342.5 L476.2 342.4 L476.8 342.3 L477.4 342.2 L478.0 342.1 L478.6 341.9 L479.3 342.0 L479.9 342.1 L480.5 342.2 L481.1 342.3 L481.7 342.3 L482.3 342.2 L482.9 342.1 L483.5 342.2 L484.1 342.2 L484.7 342.3 L485.3 342.3 L485.9 342.4 L486.5 342.4 L487.1 342.3 L487.7 342.3 L488.3 342.2 L488.9 342.3 L489.5 342.5 L490.1 342.7 L490.7 342.9 L491.3 342.9 L491.9 343.0 L492.5 342.9 L493.1 342.9 L493.7 342.8 L494.3 342.7 L494.9 342.6 L495.6 342.6 L496.2 342.8 L496.8 342.9 L497.4 343.1 L498.0 343.2 L498.6 343.2 L499.2 343.2 L499.8 343.2 L500.4 343.2 L501.0 343.0 L501.6 343.1 L502.2 343.1 L502.8 343.1 L502.8 343.6 L502.2 343.6 L501.6 343.5 L501.0 343.5 L500.4 343.5 L499.8 343.5 L499.2 343.6 L498.6 343.6 L498.0 343.6 L497.4 343.6 L496.8 343.5 L496.2 343.5 L495.6 343.5 L495.0 343.4 L494.4 343.4 L493.8 343.5 L493.2 343.5 L492.6 343.5 L492.0 343.5 L491.3 343.5 L490.7 343.5 L490.1 343.4 L489.5 343.4 L488.9 343.4 L488.3 343.4 L487.7 343.5 L487.1 343.5 L486.5 343.5 L485.9 343.6 L485.3 343.5 L484.7 343.5 L484.1 343.4 L483.5 343.4 L482.9 343.3 L482.3 343.4 L481.7 343.4 L481.1 343.4 L480.5 343.4 L479.9 343.4 L479.3 343.4 L478.7 343.5 L478.1 343.5 L477.5 343.5 L476.9 343.5 L476.3 343.5 L475.7 343.5 L475.1 343.6 L474.5 343.6 L473.9 343.6 L473.3 343.6 L472.7 343.5 L472.1 343.5 L471.5 343.5 L470.9 343.4 L470.3 343.4 L469.7 343.4 L469.0 343.4 L468.4 343.4 L467.8 343.4 L467.2 343.4 L466.6 343.4 L466.0 343.5 L465.4 343.5 L464.8 343.5 L464.2 343.4 L463.6 343.3 L463.0 343.2 L462.4 343.1 L461.8 343.1 L461.2 343.2 L460.6 343.2 L460.0 343.3 L459.4 343.4 L458.8 343.4 L458.2 343.4 L457.6 343.4 L457.0 343.4 L456.4 343.3 L455.8 343.3 L455.2 343.3 L454.6 343.4 L454.0 343.4 L453.4 343.4 L452.8 343.4 L452.2 343.4 L451.6 343.5 L451.0 343.5 L450.4 343.5 L449.8 343.5 L449.2 343.5 L448.6 343.5 L448.0 343.5 L447.3 343.5 L446.7 343.5 L446.1 343.4 L445.5 343.4 L444.9 343.3 L444.3 343.2 L443.7 343.2 L443.1 343.2 L442.5 343.3 L441.9 343.4 L441.3 343.4 L440.7 343.5 L440.1 343.5 L439.5 343.5 L438.9 343.6 L438.3 343.6 L437.7 343.6 L437.1 343.5 L436.5 343.5 L435.9 343.4 L435.3 343.4 L434.7 343.4 L434.1 343.4 L433.5 343.3 L432.9 343.3 L432.3 343.3 L431.7 343.3 L431.1 343.3 L430.5 343.3 L429.9 343.3 L429.3 343.4 L428.7 343.4 L428.1 343.4 L427.5 343.4 L426.9 343.5 L426.3 343.5 L425.7 343.5 L425.0 343.5 L424.4 343.4 L423.8 343.4 L423.2 343.4 L422.6 343.3 L422.0 343.3 L421.4 343.3 L420.8 343.3 L420.2 343.3 L419.6 343.3 L419.0 343.3 L418.4 343.3 L417.8 343.3 L417.2 343.3 L416.6 343.3 L416.0 343.4 L415.4 343.4 L414.8 343.4 L414.2 343.4 L413.6 343.4 L413.0 343.4 L412.4 343.4 L411.8 343.4 L411.2 343.4 L410.6 343.4 L410.0 343.4 L409.4 343.4 L408.8 343.4 L408.2 343.4 L407.6 343.4 L407.0 343.3 L406.4 343.3 L405.8 343.3 L405.2 343.3 L404.6 343.3 L404.0 343.3 L403.4 343.3 L402.7 343.3 L402.1 343.3 L401.5 343.3 L400.9 343.4 L400.3 343.4 L399.7 343.4 L399.1 343.4 L398.5 343.4 L397.9 343.4 L397.3 343.4 L396.7 343.4 L396.1 343.4 L395.5 343.4 L394.9 343.4 L394.3 343.4 L393.7 343.4 L393.1 343.4 L392.5 343.4 L391.9 343.4 L391.3 343.4 L390.7 343.4 L390.1 343.4 L389.5 343.4 L388.9 343.4 L388.3 343.4 L387.7 343.4 L387.1 343.4 L386.5 343.4 L385.9 343.4 L385.3 343.4 L384.7 343.4 L384.1 343.4 L383.5 343.4 L382.9 343.4 L382.3 343.4 L381.7 343.4 L381.0 343.4 L380.4 343.4 L379.8 343.4 L379.2 343.4 L378.6 343.4 L378.0 343.4 L377.4 343.4 L376.8 343.4 L376.2 343.4 L375.6 343.4 L375.0 343.4 L374.4 343.4 L373.8 343.4 L373.2 343.4 L372.6 343.4 L372.0 343.4 L371.4 343.4 L370.8 343.4 L370.2 343.4 L369.6 343.4 L369.0 343.4 L368.4 343.4 L367.8 343.4 L367.2 343.4 L366.6 343.4 L366.0 343.4 L365.4 343.4 L364.8 343.4 L364.2 343.4 L363.6 343.4 L363.0 343.4 L362.4 343.4 L361.7 343.4 L361.1 343.4 L360.5 343.4 L359.9 343.4 L359.3 343.4 L358.7 343.4 L358.1 343.4 L357.5 343.4 L356.9 343.4 L356.3 343.4 L355.7 343.4 L355.1 343.4 L354.5 343.4 L353.9 343.4 L353.3 343.4 L352.7 343.5 L352.1 343.5 L351.5 343.5 L350.9 343.5 L350.3 343.5 L349.7 343.5 L349.1 343.5 L348.5 343.5 L347.9 343.5 L347.3 343.5 L346.7 343.5 L346.1 343.5 L345.5 343.5 L344.9 343.5 L344.3 343.5 L343.7 343.5 L343.1 343.6 L342.5 343.6 L341.9 343.6 L341.3 343.6 L340.7 343.6 L340.1 343.6 L339.5 343.6 L338.9 343.7 L338.3 343.8 L337.7 343.9 L337.1 344.1 L336.5 344.2Z" fill="#f3aab8" stroke="none"/>
<path d="M336.5 344.0L337.2 343.8L337.8 343.6L338.2 343.3L338.4 343.0L338.5 342.5L338.6 341.9L338.8 341.3L338.8 340.7L338.9 340.0L339.0 339.3L339.0 338.6L339.1 338.0L339.1 337.4L339.2 336.8L339.2 336.2L339.3 335.6L339.3 335.0L339.4 334.4L339.4 333.8L339.4 333.2L339.5 332.6L339.5 332.0L339.5 331.4L339.6 330.8L339.6 330.2L339.6 329.6L339.6 329.0L339.7 328.4L339.7 327.8L339.7 327.2L339.7 326.6L339.8 326.0L339.8 325.4L339.8 324.8L339.8 324.2L339.8 323.6L339.9 323.0L339.9 322.4L339.9 321.8L339.9 321.2L340.0 320.6L340.0 320.0L340.0 319.4L340.0 318.8L340.0 318.2L340.1 317.6L340.1 317.0L340.1 316.4L340.1 315.8L340.1 315.2L340.2 314.6L340.2 314.0L340.2 313.4L340.2 312.8L340.2 312.2L340.3 311.6L340.3 311.0L340.3 310.4L340.3 309.8L340.3 309.2L340.4 308.6L340.4 308.0L340.4 307.4L340.4 306.8L340.4 306.2L340.4 305.6L340.5 305.0L340.5 304.4L340.5 303.8L340.5 303.2L340.5 302.6L340.5 302.0L340.6 301.4L340.6 300.8L340.6 300.2L340.6 299.6L340.6 299.0L340.6 298.4L340.7 297.8L340.7 297.2L340.7 296.6L340.7 295.9L340.7 295.3L340.7 294.7L340.7 294.1L340.8 293.5L340.8 292.9L340.8 292.3L340.8 291.7L340.8 291.1L340.8 290.5L340.8 289.9L340.9 289.3L340.9 288.7L340.9 288.1L340.9 287.5L340.9 286.9L340.9 286.3L340.9 285.7L340.9 285.1L341.0 284.5L341.0 283.9L341.0 283.3L341.0 282.7L341.0 282.1L341.0 281.5L341.0 280.9L341.1 280.3L341.1 279.7L341.1 279.1L341.1 278.5L341.1 277.9L341.1 277.3L341.2 276.7L341.2 276.1L341.2 275.5L341.2 274.9L341.2 274.3L341.2 273.7L341.3 273.1L341.3 272.5L341.3 271.9L341.3 271.3L341.3 270.7L341.3 270.1L341.4 269.5L341.4 268.9L341.4 268.3L341.4 267.7L341.4 267.1L341.4 266.5L341.5 265.9L341.5 265.3L341.5 264.7L341.5 264.1L341.5 263.5L341.6 262.9L341.6 262.3L341.6 261.7L341.6 261.1L341.7 260.5L341.7 259.9L341.7 259.3L341.7 258.7L341.8 258.1L341.8 257.5L341.8 256.9L341.8 256.3L341.9 255.7L341.9 255.1L341.9 254.5L342.0 253.9L342.0 253.3L342.0 252.7L342.0 252.1L342.1 251.5L342.1 250.9L342.2 250.3L342.2 249.7L342.2 249.1L342.3 248.5L342.3 247.9L342.4 247.3L342.4 246.7L342.5 246.1L342.5 245.5L342.6 244.9L342.6 244.3L342.7 243.7L342.8 243.1L342.8 242.5L342.9 241.9L343.0 241.2L343.1 240.5L343.3 239.7L343.5 239.0L343.6 238.3L343.8 237.9L344.0 237.6L344.2 237.7L344.4 238.1L344.7 238.8L344.9 239.6L345.1 240.2L345.2 240.8L345.4 241.6L345.5 242.4L345.6 243.1L345.8 243.8L345.9 244.5L346.1 245.0L346.2 245.4L346.4 245.5L346.6 245.4L346.8 244.9L347.0 244.2L347.2 243.5L347.5 242.8L347.7 242.2L348.0 241.5L348.3 240.8L348.5 240.2L348.7 240.0L348.8 240.1L349.0 240.6L349.1 241.2L349.2 241.9L349.3 242.7L349.4 243.5L349.5 244.1L349.6 244.7L349.7 245.3L349.8 245.9L349.8 246.5L349.9 247.1L350.0 247.7L350.0 248.3L350.1 248.9L350.2 249.5L350.2 250.1L350.3 250.7L350.3 251.3L350.4 251.9L350.4 252.5L350.5 253.1L350.5 253.7L350.6 254.3L350.6 254.9L350.7 255.5L350.7 256.1L350.8 256.7L350.8 257.3L350.8 257.9L350.9 258.5L350.9 259.1L351.0 259.7L351.0 260.3L351.0 260.9L351.1 261.5L351.1 262.1L351.2 262.7L351.2 263.3L351.3 263.9L351.3 264.5L351.4 265.1L351.4 265.7L351.4 266.3L351.5 266.9L351.5 267.5L351.6 268.1L351.6 268.7L351.7 269.3L351.7 269.9L351.7 270.5L351.8 271.1L351.8 271.7L351.9 272.3L351.9 272.9L352.0 273.5L352.0 274.1L352.1 274.7L352.1 275.3L352.2 275.8L352.2 276.4L352.3 277.0L352.4 277.6L352.4 278.2L352.5 278.8L352.5 279.4L352.6 280.0L352.6 280.6L352.7 281.2L352.8 281.8L352.8 282.4L352.9 283.0L353.0 283.6L353.1 284.2L353.1 284.8L353.2 285.4L353.3 286.0L353.4 286.6L353.5 287.2L353.6 287.8L353.7 288.4L353.8 289.0L353.9 289.6L354.0 290.2L354.1 290.7L354.3 291.3L354.4 291.9L354.6 292.5L354.8 293.1L354.9 293.7L355.1 294.2L355.3 294.8L355.5 295.4L355.7 295.9L355.9 296.5L356.1 297.1L356.3 297.6L356.5 298.2L356.8 298.8L357.0 299.3L357.3 299.9L357.6 300.4L357.9 300.9L358.2 301.4L358.5 301.9L358.8 302.4L359.1 302.9L359.4 303.4L359.8 304.0L360.2 304.5L360.5 305.0L360.9 305.6L361.3 306.1L361.8 306.6L362.2 307.1L362.6 307.5L363.1 307.9L363.5 308.3L364.0 308.7L364.4 309.0L364.9 309.2L365.5 309.5L366.0 309.7L366.6 309.8L367.2 309.9L367.8 310.1L368.4 310.3L369.0 310.6L369.6 310.7L370.1 310.7L370.7 310.8L371.3 310.8L371.9 310.9L372.4 311.3L372.9 311.6L373.4 312.0L374.0 312.4L374.5 312.8L375.0 313.0L375.5 313.2L376.0 313.5L376.5 313.7L377.1 314.0L377.6 314.6L378.1 315.3L378.7 316.1L379.2 316.9L379.8 317.4L380.3 317.7L380.9 318.1L381.4 317.9L382.0 317.6L382.5 317.0L383.1 316.5L383.7 315.9L384.2 315.4L384.8 315.3L385.4 315.6L385.9 316.0L386.5 316.4L387.0 316.8L387.6 316.9L388.2 316.4L388.7 315.5L389.3 315.9L389.8 317.5L390.4 318.7L390.9 319.4L391.4 319.9L392.0 320.5L392.5 321.1L393.1 321.8L393.6 322.4L394.1 323.1L394.7 323.8L395.2 323.9L395.7 323.1L396.3 321.6L396.8 319.8L397.3 319.6L397.9 321.1L398.4 322.5L399.0 323.1L399.5 323.6L400.0 324.1L400.6 324.7L401.2 325.5L401.7 326.4L402.3 327.3L402.8 328.3L403.4 327.9L403.9 327.0L404.5 325.4L405.0 324.2L405.6 324.6L406.2 325.7L406.7 326.1L407.3 326.1L407.8 326.0L408.4 326.3L409.0 326.7L409.5 327.1L410.1 327.5L410.7 327.5L411.3 326.2L411.8 324.7L412.4 325.0L413.0 326.3L413.6 327.5L414.1 328.5L414.7 329.3L415.3 330.1L415.9 331.0L416.4 331.1L417.0 331.3L417.6 331.4L418.2 331.5L418.8 331.7L419.4 331.9L419.9 331.6L420.5 330.6L421.1 330.3L421.7 331.5L422.3 332.7L422.9 333.2L423.5 333.4L424.1 333.8L424.7 334.2L425.3 334.7L425.9 335.2L426.5 335.1L427.1 333.8L427.7 331.7L428.2 331.0L428.8 332.0L429.4 333.1L430.0 333.4L430.6 333.5L431.2 333.6L431.8 333.0L432.4 332.5L433.0 332.1L433.6 331.7L434.2 331.8L434.8 332.6L435.4 332.4L436.0 332.0L436.6 333.8L437.2 334.7L437.8 334.7L438.4 334.2L439.0 333.9L439.6 334.1L440.2 333.2L440.8 331.7L441.4 332.7L442.0 335.2L442.6 336.0L443.2 335.5L443.8 334.9L444.4 334.2L445.0 333.9L445.6 333.6L446.2 333.6L446.8 333.7L447.3 333.9L447.9 334.2L448.5 334.2L449.1 333.2L449.7 331.4L450.3 331.6L450.9 333.9L451.5 335.2L452.1 335.4L452.7 335.6L453.3 335.7L453.9 335.8L454.5 335.9L455.1 335.8L455.7 335.3L456.3 334.0L456.9 332.8L457.5 333.7L458.1 335.5L458.7 336.3L459.3 336.6L459.9 336.7L460.5 337.0L461.1 337.4L461.7 337.7L462.3 337.9L462.9 336.8L463.5 333.5L464.1 331.6L464.7 333.1L465.3 334.6L465.9 335.0L466.5 335.3L467.1 335.5L467.7 335.2L468.3 333.1L468.9 330.8L469.5 332.3L470.1 335.4L470.7 336.9L471.3 337.6L471.9 338.1L472.5 338.5L473.1 338.7L473.7 338.5L474.3 338.3L474.9 338.2L475.5 338.0L476.1 337.5L476.7 337.1L477.3 335.7L477.9 333.9L478.5 335.0L479.1 337.5L479.6 338.7L480.2 338.8L480.8 338.9L481.4 339.1L482.0 339.3L482.6 339.2L483.2 338.4L483.8 336.7L484.4 336.8L485.0 337.9L485.6 338.2L486.2 338.0L486.8 338.1L487.4 338.1L488.0 338.1L488.6 338.2L489.2 338.6L489.8 338.8L490.4 338.5L491.0 338.3L491.6 339.1L492.1 339.9L492.7 340.0L493.3 339.8L493.9 339.6L494.5 339.8L495.1 339.9L495.7 339.5L496.3 337.8L496.9 335.6L497.5 336.6L498.1 338.9L498.7 339.8L499.3 340.2L499.8 341.0L500.4 341.3L501.0 341.5L501.6 341.8L502.2 342.5L502.8 343.3" fill="none" stroke="#2e4a72" stroke-width="0.75" stroke-dasharray="1.4 1.1"/>
<path d="M336.5 344.4L337.2 344.4L337.8 344.2L338.4 344.1L338.9 343.9L339.3 343.6L339.6 343.2L339.9 342.7L340.1 342.1L340.4 341.4L340.6 340.8L340.8 340.2L340.9 339.6L341.1 339.0L341.2 338.4L341.3 337.9L341.4 337.3L341.6 336.7L341.7 336.1L341.8 335.5L341.9 334.9L342.0 334.3L342.1 333.7L342.2 333.1L342.2 332.5L342.3 331.9L342.4 331.3L342.5 330.7L342.6 330.1L342.6 329.5L342.7 328.9L342.8 328.3L342.8 327.7L342.9 327.1L343.0 326.5L343.0 325.9L343.1 325.3L343.2 324.7L343.2 324.1L343.3 323.5L343.3 322.9L343.4 322.3L343.5 321.7L343.5 321.1L343.6 320.5L343.6 319.9L343.7 319.3L343.7 318.7L343.8 318.1L343.8 317.5L343.9 316.9L343.9 316.3L344.0 315.7L344.0 315.1L344.1 314.5L344.1 313.9L344.2 313.3L344.2 312.7L344.2 312.1L344.3 311.5L344.3 310.9L344.4 310.3L344.4 309.7L344.5 309.1L344.5 308.5L344.5 307.9L344.6 307.3L344.6 306.7L344.7 306.1L344.7 305.5L344.7 304.9L344.8 304.3L344.8 303.7L344.9 303.1L344.9 302.5L344.9 301.9L345.0 301.3L345.0 300.7L345.0 300.1L345.1 299.5L345.1 298.9L345.1 298.3L345.2 297.7L345.2 297.1L345.3 296.5L345.3 295.9L345.3 295.3L345.4 294.7L345.4 294.1L345.4 293.5L345.5 292.9L345.5 292.3L345.5 291.7L345.5 291.1L345.6 290.5L345.6 289.9L345.6 289.3L345.7 288.7L345.7 288.1L345.7 287.5L345.7 286.9L345.8 286.3L345.8 285.7L345.8 285.1L345.9 284.5L345.9 283.9L345.9 283.3L345.9 282.7L346.0 282.1L346.0 281.5L346.0 280.9L346.1 280.3L346.1 279.7L346.1 279.1L346.2 278.5L346.2 277.9L346.2 277.3L346.3 276.7L346.3 276.1L346.3 275.5L346.4 274.9L346.4 274.3L346.4 273.7L346.5 273.0L346.5 272.4L346.6 271.8L346.6 271.2L346.7 270.6L346.7 270.0L346.8 269.4L346.8 268.8L346.9 268.2L347.0 267.6L347.0 267.0L347.1 266.5L347.2 265.9L347.4 265.2L347.6 264.5L347.9 263.8L348.2 263.3L348.5 263.0L348.6 263.1L348.8 263.5L349.0 264.0L349.2 264.7L349.4 265.5L349.5 266.2L349.6 266.9L349.7 267.5L349.7 268.1L349.8 268.7L349.9 269.3L349.9 269.9L350.0 270.5L350.0 271.1L350.1 271.7L350.1 272.3L350.2 272.9L350.2 273.5L350.3 274.1L350.3 274.7L350.3 275.3L350.4 275.9L350.4 276.5L350.5 277.1L350.5 277.7L350.6 278.3L350.6 278.9L350.7 279.5L350.7 280.1L350.8 280.7L350.8 281.3L350.9 281.9L350.9 282.5L351.0 283.1L351.1 283.7L351.1 284.3L351.2 284.9L351.2 285.5L351.3 286.1L351.4 286.7L351.4 287.3L351.5 287.9L351.6 288.5L351.6 289.1L351.7 289.7L351.8 290.3L351.9 290.9L351.9 291.5L352.0 292.1L352.1 292.7L352.2 293.3L352.3 293.9L352.4 294.4L352.5 295.0L352.6 295.6L352.7 296.2L352.8 296.8L352.9 297.4L353.0 298.0L353.1 298.6L353.2 299.2L353.3 299.8L353.4 300.4L353.6 301.0L353.7 301.6L353.8 302.2L354.0 302.8L354.1 303.4L354.3 304.0L354.4 304.5L354.6 305.1L354.8 305.6L355.0 306.2L355.2 306.7L355.4 307.3L355.7 307.8L356.0 308.3L356.3 308.9L356.6 309.4L356.9 309.9L357.2 310.4L357.6 311.0L357.9 311.5L358.3 312.0L358.6 312.5L359.0 313.0L359.3 313.5L359.7 314.0L360.0 314.5L360.4 314.9L360.8 315.4L361.1 316.0L361.5 316.5L361.9 317.0L362.3 317.5L362.7 318.0L363.1 318.5L363.5 319.0L363.8 319.6L364.2 320.1L364.6 320.5L364.9 321.1L365.3 321.6L365.6 322.1L366.0 322.5L366.4 322.8L366.9 322.9L367.4 322.9L368.0 323.1L368.6 323.3L369.2 323.4L369.8 323.5L370.4 323.5L371.0 323.5L371.6 323.4L372.2 323.5L372.8 323.6L373.4 323.7L374.0 323.8L374.6 323.8L375.2 323.9L375.8 323.9L376.4 324.0L377.0 324.1L377.6 324.6L378.2 325.2L378.8 325.9L379.4 326.6L380.0 326.6L380.6 326.6L381.2 326.5L381.7 325.8L382.3 325.4L382.9 325.2L383.5 325.1L384.1 324.9L384.7 325.0L385.2 325.0L385.8 325.0L386.4 325.0L387.0 325.0L387.5 325.2L388.1 325.6L388.7 326.1L389.2 326.6L389.8 327.1L390.4 327.6L390.9 328.1L391.5 328.6L392.0 329.2L392.6 329.8L393.1 330.2L393.7 330.6L394.2 331.0L394.7 331.3L395.3 331.5L395.8 331.7L396.4 331.8L396.9 332.0L397.5 332.2L398.0 332.4L398.6 332.5L399.1 332.7L399.7 332.8L400.3 332.9L400.8 332.6L401.4 332.4L401.9 332.3L402.5 332.3L403.1 332.4L403.7 332.6L404.2 332.9L404.8 333.2L405.4 333.1L406.0 333.2L406.5 333.2L407.1 333.2L407.7 333.2L408.3 333.3L408.9 333.5L409.4 333.8L410.0 334.1L410.6 334.4L411.2 334.3L411.8 334.3L412.4 334.2L413.0 334.2L413.6 334.1L414.1 333.9L414.7 333.8L415.3 333.7L415.9 333.8L416.5 334.6L417.1 335.4L417.7 336.2L418.3 337.0L418.9 336.9L419.5 336.6L420.1 336.3L420.7 336.0L421.3 336.0L421.9 336.4L422.5 337.0L423.1 337.6L423.7 338.0L424.3 337.8L424.9 337.6L425.5 337.5L426.1 337.4L426.7 337.4L427.3 337.3L427.9 337.3L428.5 337.3L429.1 337.4L429.7 337.9L430.3 338.4L430.9 338.9L431.5 339.4L432.1 339.4L432.7 339.8L433.3 340.2L433.9 340.6L434.4 340.7L435.0 340.7L435.6 340.5L436.2 339.9L436.8 339.5L437.4 339.1L438.0 338.7L438.6 338.4L439.2 338.5L439.8 338.7L440.4 339.0L441.0 339.2L441.6 339.4L442.2 340.4L442.8 340.8L443.4 341.3L444.0 341.8L444.6 341.7L445.2 340.5L445.8 339.4L446.4 338.6L447.0 337.7L447.6 338.2L448.2 338.8L448.8 339.3L449.4 340.1L450.0 340.9L450.6 341.6L451.2 342.4L451.8 343.1L452.4 343.6L453.0 343.1L453.6 342.5L454.2 341.9L454.8 341.3L455.4 340.8L456.0 340.3L456.5 339.9L457.1 339.5L457.7 339.9L458.3 340.9L458.9 341.9L459.5 342.8L460.1 343.5L460.7 343.5L461.3 343.5L461.9 343.5L462.5 343.6L463.1 343.7L463.7 343.8L464.3 343.9L464.9 344.0L465.5 343.4L466.1 342.4L466.7 341.8L467.3 341.2L467.9 340.9L468.5 341.7L469.1 342.5L469.7 343.3L470.3 344.2L470.9 344.0L471.5 343.5L472.1 343.1L472.7 342.7L473.3 342.5L473.9 342.8L474.5 343.1L475.1 343.3L475.7 343.6L476.3 343.8L476.9 344.5L477.5 345.2L478.1 345.9L478.7 346.1L479.3 346.3L479.9 346.2L480.5 345.9L481.1 345.5L481.7 344.9L482.3 344.4L482.9 343.9L483.6 343.5L484.2 343.4L484.8 343.2L485.4 343.1L486.0 343.0L486.6 343.1L487.2 343.2L487.8 343.3L488.4 343.5L489.0 343.4L489.6 343.1L490.2 343.0L490.8 342.9L491.4 342.8L492.0 343.0L492.6 343.2L493.2 343.4L493.8 343.4L494.4 343.4L495.0 343.3L495.6 343.3L496.2 343.3L496.8 343.1L497.4 343.1L498.0 343.1L498.6 343.1L499.2 343.3L499.8 343.9L500.4 344.2L501.0 344.2L501.6 344.3L502.2 344.4L502.8 344.5" fill="none" stroke="#2e4a72" stroke-width="0.75" stroke-dasharray="1.4 1.1"/>
<path d="M336.5 343.8L337.1 343.7L337.7 343.6L338.3 343.4L338.9 343.3L339.5 343.2L340.1 343.2L340.7 343.2L341.3 343.1L341.9 343.1L342.5 343.1L343.1 343.1L343.7 343.1L344.3 343.0L344.9 343.0L345.5 343.0L346.2 343.0L346.8 343.0L347.4 343.0L348.0 343.0L348.6 343.0L349.3 342.9L349.9 342.9L350.5 342.9L351.1 342.9L351.7 342.9L352.4 342.9L353.0 342.9L353.6 342.9L354.2 342.9L354.8 342.9L355.4 342.9L356.0 342.9L356.7 342.9L357.3 342.9L357.9 342.9L358.5 342.9L359.1 342.8L359.7 342.8L360.3 342.8L360.9 342.8L361.5 342.8L362.0 342.8L362.6 342.8L363.2 342.7L363.8 342.7L364.4 342.7L364.9 342.7L365.5 342.6L366.0 342.6L366.6 342.5L367.1 342.4L367.7 342.1L368.2 341.9L368.8 341.5L369.3 341.2L369.8 340.8L370.3 340.5L370.9 340.1L371.4 339.7L371.9 339.4L372.4 339.0L372.8 338.6L373.3 338.2L373.7 337.7L374.2 337.3L374.6 336.8L375.1 336.3L375.5 335.9L376.0 335.4L376.4 335.0L376.9 334.7L377.4 334.4L377.9 334.1L378.4 333.9L378.9 333.8L379.5 333.6L380.1 333.5L380.7 333.4L381.3 333.3L381.9 333.3L382.5 333.2L383.1 333.2L383.7 333.2L384.3 333.3L384.9 333.4L385.5 333.5L386.1 333.7L386.7 333.9L387.2 334.1L387.8 334.3L388.4 334.5L389.0 334.6L389.6 334.8L390.2 334.9L390.8 335.0L391.4 335.1L392.0 335.2L392.6 335.2L393.2 335.3L393.8 335.4L394.4 335.5L395.0 335.5L395.6 335.6L396.2 335.7L396.8 335.7L397.4 335.8L398.0 335.9L398.6 336.0L399.2 336.1L399.8 336.1L400.4 336.1L401.0 336.2L401.6 336.2L402.2 336.2L402.8 336.2L403.4 336.3L404.0 336.4L404.6 336.5L405.2 336.6L405.8 336.7L406.4 336.9L407.0 337.0L407.6 337.1L408.2 337.1L408.8 337.2L409.4 337.3L410.0 337.4L410.6 337.4L411.2 337.5L411.8 337.5L412.4 337.5L413.0 337.6L413.6 337.6L414.2 337.6L414.8 337.7L415.4 337.7L416.0 337.7L416.6 337.7L417.2 337.7L417.8 337.6L418.4 337.5L419.0 337.5L419.6 337.6L420.2 337.7L420.8 337.9L421.4 338.1L422.0 338.3L422.6 338.5L423.2 338.7L423.8 338.9L424.4 339.0L425.0 339.0L425.6 339.1L426.2 339.2L426.8 339.2L427.4 339.1L428.0 339.1L428.6 339.1L429.2 339.1L429.8 339.2L430.4 339.2L431.0 339.3L431.6 339.3L432.2 339.4L432.8 339.4L433.4 339.5L434.0 339.7L434.6 339.8L435.2 339.9L435.8 340.1L436.4 340.1L437.0 340.2L437.6 340.3L438.2 340.3L438.8 340.4L439.4 340.4L440.0 340.4L440.6 340.4L441.2 340.4L441.8 340.3L442.4 340.2L443.0 340.1L443.7 339.9L444.3 339.8L444.9 339.9L445.5 340.1L446.1 340.3L446.7 340.6L447.3 340.8L447.9 340.8L448.5 340.8L449.1 340.9L449.7 340.9L450.3 340.9L450.9 340.9L451.5 340.8L452.1 340.8L452.7 340.8L453.3 340.9L453.9 341.0L454.5 341.1L455.1 341.1L455.7 341.0L456.3 341.0L456.9 341.0L457.5 341.0L458.1 341.1L458.7 341.1L459.3 341.0L459.9 340.8L460.5 340.7L461.1 340.5L461.8 340.4L462.4 340.5L463.0 340.7L463.6 340.9L464.2 341.1L464.8 341.4L465.4 341.6L466.0 341.7L466.6 341.7L467.2 341.7L467.8 341.7L468.4 341.7L469.0 341.7L469.6 341.7L470.2 341.8L470.8 341.9L471.4 342.0L472.0 342.1L472.6 342.3L473.2 342.5L473.8 342.7L474.4 342.7L475.0 342.6L475.6 342.5L476.2 342.4L476.8 342.3L477.4 342.2L478.0 342.1L478.6 341.9L479.3 342.0L479.9 342.1L480.5 342.2L481.1 342.3L481.7 342.3L482.3 342.2L482.9 342.1L483.5 342.2L484.1 342.2L484.7 342.3L485.3 342.3L485.9 342.4L486.5 342.4L487.1 342.3L487.7 342.3L488.3 342.2L488.9 342.3L489.5 342.5L490.1 342.7L490.7 342.9L491.3 342.9L491.9 343.0L492.5 342.9L493.1 342.9L493.7 342.8L494.3 342.7L494.9 342.6L495.6 342.6L496.2 342.8L496.8 342.9L497.4 343.1L498.0 343.2L498.6 343.2L499.2 343.2L499.8 343.2L500.4 343.2L501.0 343.0L501.6 343.1L502.2 343.1L502.8 343.1" fill="none" stroke="#a82a46" stroke-width="0.7" stroke-dasharray="1.3 1.2" opacity="0.95"/>
<path d="M336.5 344.2L337.1 344.1L337.7 343.9L338.3 343.8L338.9 343.7L339.5 343.6L340.1 343.6L340.7 343.6L341.3 343.6L341.9 343.6L342.5 343.6L343.1 343.6L343.7 343.5L344.3 343.5L344.9 343.5L345.5 343.5L346.1 343.5L346.7 343.5L347.3 343.5L347.9 343.5L348.5 343.5L349.1 343.5L349.7 343.5L350.3 343.5L350.9 343.5L351.5 343.5L352.1 343.5L352.7 343.5L353.3 343.4L353.9 343.4L354.5 343.4L355.1 343.4L355.7 343.4L356.3 343.4L356.9 343.4L357.5 343.4L358.1 343.4L358.7 343.4L359.3 343.4L359.9 343.4L360.5 343.4L361.1 343.4L361.7 343.4L362.4 343.4L363.0 343.4L363.6 343.4L364.2 343.4L364.8 343.4L365.4 343.4L366.0 343.4L366.6 343.4L367.2 343.4L367.8 343.4L368.4 343.4L369.0 343.4L369.6 343.4L370.2 343.4L370.8 343.4L371.4 343.4L372.0 343.4L372.6 343.4L373.2 343.4L373.8 343.4L374.4 343.4L375.0 343.4L375.6 343.4L376.2 343.4L376.8 343.4L377.4 343.4L378.0 343.4L378.6 343.4L379.2 343.4L379.8 343.4L380.4 343.4L381.0 343.4L381.7 343.4L382.3 343.4L382.9 343.4L383.5 343.4L384.1 343.4L384.7 343.4L385.3 343.4L385.9 343.4L386.5 343.4L387.1 343.4L387.7 343.4L388.3 343.4L388.9 343.4L389.5 343.4L390.1 343.4L390.7 343.4L391.3 343.4L391.9 343.4L392.5 343.4L393.1 343.4L393.7 343.4L394.3 343.4L394.9 343.4L395.5 343.4L396.1 343.4L396.7 343.4L397.3 343.4L397.9 343.4L398.5 343.4L399.1 343.4L399.7 343.4L400.3 343.4L400.9 343.4L401.5 343.3L402.1 343.3L402.7 343.3L403.4 343.3L404.0 343.3L404.6 343.3L405.2 343.3L405.8 343.3L406.4 343.3L407.0 343.3L407.6 343.4L408.2 343.4L408.8 343.4L409.4 343.4L410.0 343.4L410.6 343.4L411.2 343.4L411.8 343.4L412.4 343.4L413.0 343.4L413.6 343.4L414.2 343.4L414.8 343.4L415.4 343.4L416.0 343.4L416.6 343.3L417.2 343.3L417.8 343.3L418.4 343.3L419.0 343.3L419.6 343.3L420.2 343.3L420.8 343.3L421.4 343.3L422.0 343.3L422.6 343.3L423.2 343.4L423.8 343.4L424.4 343.4L425.0 343.5L425.7 343.5L426.3 343.5L426.9 343.5L427.5 343.4L428.1 343.4L428.7 343.4L429.3 343.4L429.9 343.3L430.5 343.3L431.1 343.3L431.7 343.3L432.3 343.3L432.9 343.3L433.5 343.3L434.1 343.4L434.7 343.4L435.3 343.4L435.9 343.4L436.5 343.5L437.1 343.5L437.7 343.6L438.3 343.6L438.9 343.6L439.5 343.5L440.1 343.5L440.7 343.5L441.3 343.4L441.9 343.4L442.5 343.3L443.1 343.2L443.7 343.2L444.3 343.2L444.9 343.3L445.5 343.4L446.1 343.4L446.7 343.5L447.3 343.5L448.0 343.5L448.6 343.5L449.2 343.5L449.8 343.5L450.4 343.5L451.0 343.5L451.6 343.5L452.2 343.4L452.8 343.4L453.4 343.4L454.0 343.4L454.6 343.4L455.2 343.3L455.8 343.3L456.4 343.3L457.0 343.4L457.6 343.4L458.2 343.4L458.8 343.4L459.4 343.4L460.0 343.3L460.6 343.2L461.2 343.2L461.8 343.1L462.4 343.1L463.0 343.2L463.6 343.3L464.2 343.4L464.8 343.5L465.4 343.5L466.0 343.5L466.6 343.4L467.2 343.4L467.8 343.4L468.4 343.4L469.0 343.4L469.7 343.4L470.3 343.4L470.9 343.4L471.5 343.5L472.1 343.5L472.7 343.5L473.3 343.6L473.9 343.6L474.5 343.6L475.1 343.6L475.7 343.5L476.3 343.5L476.9 343.5L477.5 343.5L478.1 343.5L478.7 343.5L479.3 343.4L479.9 343.4L480.5 343.4L481.1 343.4L481.7 343.4L482.3 343.4L482.9 343.3L483.5 343.4L484.1 343.4L484.7 343.5L485.3 343.5L485.9 343.6L486.5 343.5L487.1 343.5L487.7 343.5L488.3 343.4L488.9 343.4L489.5 343.4L490.1 343.4L490.7 343.5L491.3 343.5L492.0 343.5L492.6 343.5L493.2 343.5L493.8 343.5L494.4 343.4L495.0 343.4L495.6 343.5L496.2 343.5L496.8 343.5L497.4 343.6L498.0 343.6L498.6 343.6L499.2 343.6L499.8 343.5L500.4 343.5L501.0 343.5L501.6 343.5L502.2 343.6L502.8 343.6" fill="none" stroke="#a82a46" stroke-width="0.7" stroke-dasharray="1.3 1.2" opacity="0.95"/>
<path d="M336.5 344.0L337.1 343.9L337.7 343.7L338.3 343.6L338.9 343.4L339.5 343.3L340.1 343.3L340.6 343.3L341.2 343.3L341.8 343.2L342.4 343.2L343.0 343.2L343.6 343.2L344.2 343.2L344.8 343.2L345.4 343.2L346.1 343.2L346.7 343.1L347.3 343.1L347.9 343.1L348.5 343.1L349.1 343.1L349.7 343.1L350.3 343.1L350.9 343.1L351.5 343.1L352.1 343.1L352.7 343.1L353.3 343.1L353.9 343.1L354.5 343.1L355.1 343.1L355.7 343.1L356.3 343.1L357.0 343.1L357.6 343.1L358.2 343.1L358.8 343.1L359.4 343.1L360.0 343.1L360.6 343.0L361.2 343.0L361.8 343.0L362.4 343.0L363.0 343.0L363.6 343.0L364.2 343.0L364.8 343.0L365.4 342.9L366.0 342.9L366.6 342.9L367.2 342.9L367.8 342.8L368.4 342.7L369.0 342.6L369.6 342.5L370.2 342.4L370.8 342.2L371.3 342.0L371.9 341.8L372.4 341.5L373.0 341.3L373.5 341.0L374.1 340.8L374.7 340.5L375.2 340.3L375.8 340.1L376.4 339.9L376.9 339.8L377.5 339.6L378.1 339.4L378.7 339.2L379.3 339.0L379.9 338.9L380.5 338.7L381.1 338.6L381.7 338.5L382.3 338.5L382.8 338.4L383.4 338.4L384.0 338.4L384.6 338.5L385.2 338.5L385.8 338.6L386.4 338.7L387.0 338.8L387.6 338.9L388.2 339.0L388.8 339.1L389.4 339.2L390.0 339.3L390.6 339.4L391.2 339.4L391.8 339.5L392.4 339.6L393.0 339.7L393.6 339.7L394.2 339.8L394.8 339.9L395.4 340.0L396.0 340.0L396.6 340.1L397.2 340.2L397.8 340.2L398.4 340.3L399.0 340.3L399.6 340.4L400.2 340.4L400.8 340.4L401.4 340.4L402.0 340.4L402.6 340.4L403.2 340.4L403.8 340.5L404.4 340.5L405.0 340.5L405.6 340.6L406.2 340.6L406.9 340.6L407.5 340.7L408.1 340.7L408.7 340.7L409.3 340.8L409.9 340.8L410.5 340.8L411.1 340.9L411.7 340.9L412.3 340.9L412.9 340.9L413.5 341.0L414.1 341.0L414.7 341.0L415.3 341.0L415.9 341.0L416.5 341.0L417.1 341.0L417.7 341.0L418.3 340.9L418.9 340.9L419.5 340.9L420.1 340.9L420.7 341.0L421.3 341.0L421.9 341.1L422.5 341.2L423.1 341.2L423.7 341.3L424.4 341.4L425.0 341.5L425.6 341.6L426.2 341.7L426.8 341.6L427.4 341.6L428.0 341.5L428.6 341.5L429.2 341.5L429.8 341.5L430.4 341.5L431.0 341.5L431.6 341.5L432.2 341.5L432.8 341.5L433.4 341.5L434.0 341.6L434.6 341.6L435.2 341.7L435.8 341.8L436.4 341.9L437.0 342.0L437.6 342.1L438.2 342.2L438.8 342.1L439.4 342.1L440.0 342.0L440.6 342.0L441.2 341.9L441.8 341.8L442.5 341.7L443.1 341.5L443.7 341.4L444.3 341.4L444.9 341.6L445.5 341.8L446.1 342.0L446.7 342.1L447.3 342.2L447.9 342.2L448.5 342.2L449.1 342.2L449.7 342.2L450.3 342.2L450.9 342.2L451.5 342.1L452.1 342.1L452.7 342.1L453.3 342.0L453.9 342.0L454.5 341.9L455.1 341.9L455.7 341.9L456.3 341.9L456.9 342.0L457.5 342.0L458.1 342.1L458.7 342.2L459.4 342.1L460.0 342.0L460.6 341.8L461.2 341.7L461.8 341.5L462.4 341.6L463.0 341.8L463.6 342.0L464.2 342.2L464.8 342.4L465.4 342.5L466.0 342.4L466.6 342.3L467.2 342.3L467.8 342.2L468.4 342.2L469.0 342.3L469.6 342.3L470.2 342.3L470.8 342.4L471.4 342.4L472.0 342.5L472.6 342.6L473.2 342.7L473.8 342.8L474.4 342.8L475.0 342.7L475.6 342.7L476.2 342.7L476.9 342.7L477.5 342.6L478.1 342.6L478.7 342.6L479.3 342.6L479.9 342.6L480.5 342.5L481.1 342.5L481.7 342.5L482.3 342.5L482.9 342.4L483.5 342.5L484.1 342.6L484.7 342.7L485.3 342.8L485.9 342.9L486.5 342.9L487.1 342.9L487.7 342.8L488.3 342.7L488.9 342.7L489.5 342.7L490.1 342.8L490.7 342.9L491.3 342.9L491.9 343.0L492.5 343.0L493.1 343.0L493.7 342.9L494.4 342.9L495.0 342.9L495.6 343.0L496.2 343.1L496.8 343.1L497.4 343.2L498.0 343.3L498.6 343.3L499.2 343.2L499.8 343.2L500.4 343.1L501.0 343.1L501.6 343.2L502.2 343.3L502.8 343.4" fill="none" stroke="#b8102f" stroke-width="2.0" stroke-linejoin="round"/>
<path d="M336.5 344.2L337.2 344.1L337.8 344.0L338.3 343.7L338.7 343.4L339.0 343.0L339.3 342.4L339.5 341.7L339.7 341.2L339.7 340.6L339.8 340.0L339.9 339.4L339.9 338.8L340.0 338.2L340.0 337.6L340.1 337.0L340.1 336.4L340.1 335.8L340.2 335.2L340.2 334.6L340.2 334.0L340.3 333.4L340.3 332.8L340.4 332.2L340.4 331.6L340.4 331.0L340.5 330.4L340.5 329.8L340.5 329.2L340.6 328.6L340.6 328.0L340.6 327.4L340.7 326.8L340.7 326.2L340.7 325.6L340.8 325.0L340.8 324.4L340.8 323.8L340.8 323.2L340.9 322.6L340.9 321.9L340.9 321.3L341.0 320.7L341.0 320.1L341.0 319.5L341.1 318.9L341.1 318.3L341.1 317.7L341.1 317.1L341.2 316.5L341.2 315.9L341.2 315.3L341.3 314.7L341.3 314.1L341.3 313.5L341.4 312.9L341.4 312.3L341.4 311.7L341.5 311.1L341.5 310.5L341.5 309.9L341.6 309.3L341.6 308.7L341.6 308.1L341.7 307.5L341.7 306.9L341.7 306.3L341.8 305.7L341.8 305.1L341.8 304.5L341.9 303.9L341.9 303.3L341.9 302.7L341.9 302.1L342.0 301.5L342.0 300.9L342.0 300.3L342.0 299.7L342.1 299.1L342.1 298.5L342.1 297.9L342.1 297.3L342.2 296.7L342.2 296.1L342.2 295.5L342.2 294.9L342.3 294.3L342.3 293.7L342.3 293.1L342.3 292.5L342.4 291.9L342.4 291.3L342.4 290.7L342.4 290.1L342.5 289.5L342.5 288.9L342.5 288.3L342.6 287.7L342.6 287.1L342.6 286.5L342.7 285.9L342.7 285.3L342.7 284.7L342.8 284.1L342.8 283.5L342.9 282.9L342.9 282.3L342.9 281.7L343.0 281.1L343.0 280.5L343.1 279.9L343.1 279.3L343.1 278.7L343.2 278.1L343.2 277.5L343.3 276.9L343.3 276.3L343.4 275.7L343.4 275.1L343.5 274.5L343.5 273.9L343.6 273.3L343.6 272.7L343.7 272.1L343.7 271.5L343.8 270.9L343.9 270.3L343.9 269.7L344.0 269.1L344.1 268.5L344.1 267.9L344.2 267.3L344.3 266.7L344.4 266.1L344.5 265.6L344.6 265.0L344.7 264.4L344.9 263.8L345.0 263.2L345.2 262.6L345.4 262.1L345.5 261.5L345.7 260.9L345.9 260.3L346.1 259.8L346.3 259.2L346.5 258.6L346.7 258.1L346.9 257.5L347.2 256.9L347.4 256.4L347.7 255.8L348.0 255.2L348.3 254.7L348.7 254.7L349.0 255.1L349.2 255.8L349.5 256.5L349.7 257.0L349.8 257.6L350.0 258.2L350.1 258.8L350.3 259.4L350.4 260.0L350.5 260.5L350.6 261.1L350.7 261.7L350.9 262.3L351.0 262.9L351.1 263.5L351.2 264.1L351.3 264.7L351.4 265.3L351.5 265.9L351.6 266.5L351.7 267.1L351.8 267.7L351.9 268.2L352.0 268.8L352.1 269.4L352.2 270.0L352.2 270.6L352.3 271.2L352.4 271.8L352.5 272.4L352.6 273.0L352.7 273.6L352.8 274.2L352.8 274.8L352.9 275.4L353.0 276.0L353.1 276.6L353.1 277.2L353.2 277.8L353.3 278.4L353.4 279.0L353.4 279.6L353.5 280.2L353.6 280.8L353.6 281.4L353.7 282.0L353.8 282.5L353.9 283.1L353.9 283.7L354.0 284.3L354.1 284.9L354.2 285.5L354.2 286.1L354.3 286.7L354.4 287.3L354.4 287.9L354.5 288.5L354.6 289.1L354.7 289.7L354.8 290.3L354.8 290.9L354.9 291.5L355.0 292.1L355.1 292.7L355.2 293.3L355.3 293.9L355.3 294.5L355.4 295.1L355.5 295.7L355.6 296.3L355.7 296.9L355.8 297.5L355.9 298.1L356.0 298.6L356.1 299.2L356.2 299.8L356.4 300.4L356.5 301.0L356.6 301.6L356.8 302.2L356.9 302.8L357.1 303.4L357.3 304.0L357.5 304.5L357.7 305.1L357.9 305.7L358.1 306.3L358.4 306.8L358.6 307.4L358.9 307.9L359.2 308.4L359.5 308.9L359.9 309.4L360.2 309.9L360.5 310.4L360.8 310.9L361.1 311.5L361.3 312.2L361.5 312.9L361.7 313.6L361.9 314.3L362.1 314.9L362.3 315.4L362.7 315.6L363.1 315.8L363.8 316.0L364.5 316.0L365.1 316.0L365.7 316.1L366.2 316.0L366.8 315.9L367.4 315.7L368.0 315.9L368.6 316.2L369.1 316.4L369.7 316.7L370.3 317.0L370.9 317.3L371.4 317.3L372.0 317.3L372.6 317.3L373.2 317.4L373.7 317.5L374.3 317.7L374.9 318.0L375.5 318.3L376.0 318.6L376.6 318.8L377.2 319.1L377.8 319.4L378.4 319.7L379.0 320.0L379.6 320.5L380.1 321.1L380.7 321.7L381.2 322.2L381.6 322.1L382.1 322.2L382.6 322.2L383.1 322.0L383.5 321.5L384.0 321.0L384.5 320.6L385.1 320.8L385.6 320.9L386.2 321.1L386.8 321.7L387.4 322.3L388.0 322.7L388.6 322.8L389.2 322.8L389.8 323.1L390.3 323.7L390.9 324.4L391.5 325.1L392.1 325.8L392.6 326.5L393.2 326.8L393.8 326.8L394.3 326.7L394.9 326.8L395.4 326.8L396.0 326.9L396.5 327.1L397.0 327.3L397.6 327.6L398.1 327.8L398.6 327.9L399.2 328.1L399.7 328.2L400.3 328.2L400.8 328.2L401.4 328.2L402.0 328.4L402.5 328.5L403.1 328.7L403.7 329.3L404.2 330.0L404.8 330.6L405.3 330.1L405.9 329.6L406.4 329.0L407.0 329.5L407.6 330.0L408.1 330.6L408.7 330.8L409.3 331.0L409.8 331.2L410.4 331.6L411.0 332.2L411.5 332.7L412.1 332.7L412.7 332.7L413.3 332.6L413.9 332.8L414.5 333.1L415.1 333.3L415.7 333.1L416.3 333.0L416.9 333.0L417.5 333.6L418.1 334.2L418.6 334.7L419.2 334.9L419.8 335.1L420.4 335.3L420.9 335.5L421.5 335.7L422.1 335.8L422.6 335.8L423.2 335.7L423.8 335.9L424.4 336.6L425.0 337.2L425.6 337.5L426.2 337.7L426.8 337.9L427.4 337.7L428.0 337.3L428.6 337.0L429.2 336.2L429.8 335.4L430.3 334.7L430.9 335.0L431.5 335.2L432.1 335.5L432.7 336.3L433.3 337.0L433.9 337.5L434.5 337.9L435.1 338.3L435.7 338.2L436.3 337.7L436.9 337.3L437.5 336.9L438.1 336.5L438.7 336.2L439.3 336.9L439.9 337.8L440.5 338.7L441.1 338.9L441.7 339.1L442.3 339.0L442.9 338.0L443.5 337.0L444.1 336.3L444.7 336.4L445.3 336.5L445.9 336.7L446.5 337.1L447.1 337.4L447.7 337.2L448.3 336.5L448.9 335.9L449.5 336.5L450.1 337.5L450.7 338.4L451.3 338.8L451.9 339.2L452.5 339.6L453.1 339.4L453.7 339.2L454.3 339.1L454.9 339.3L455.5 339.4L456.1 339.4L456.6 339.2L457.2 339.1L457.8 339.3L458.4 339.8L459.0 340.4L459.6 340.9L460.2 341.4L460.8 342.0L461.4 341.7L462.0 341.2L462.6 340.8L463.2 340.2L463.8 339.6L464.4 339.2L465.0 339.7L465.6 340.2L466.2 340.3L466.8 339.7L467.4 339.1L468.0 339.4L468.6 340.6L469.2 341.9L469.8 342.2L470.4 342.2L471.0 342.1L471.6 342.6L472.2 343.2L472.8 343.8L473.4 343.4L474.0 342.9L474.6 342.4L475.2 341.9L475.8 341.4L476.4 341.3L477.0 342.0L477.6 342.7L478.2 343.0L478.8 343.0L479.4 343.0L480.0 342.7L480.6 342.3L481.2 341.9L481.8 341.8L482.4 341.9L483.0 342.0L483.6 341.4L484.2 340.8L484.8 340.4L485.4 340.9L486.0 341.4L486.6 341.5L487.2 340.9L487.8 340.3L488.4 340.3L489.0 340.8L489.6 341.3L490.2 341.7L490.8 342.0L491.4 342.3L492.0 342.4L492.6 342.5L493.2 342.6L493.8 342.3L494.4 341.9L495.0 341.5L495.6 340.6L496.2 339.6L496.8 339.4L497.4 340.6L498.0 341.8L498.6 343.0L499.2 344.0L499.8 345.1L500.4 344.9L501.0 344.1L501.6 343.2L502.2 343.2L502.8 343.4" fill="none" stroke="#173f78" stroke-width="2.2" stroke-linejoin="round"/>
<line x1="320.6" y1="238.1" x2="320.6" y2="364.2" stroke="#1a1a1a" stroke-width="1.6"/>
<line x1="319.90000000000003" y1="363.5" x2="509.8" y2="363.5" stroke="#1a1a1a" stroke-width="1.6"/>
<line x1="316.3" y1="252.9" x2="320.6" y2="252.9" stroke="#1a1a1a" stroke-width="1.4"/>
<text x="291.09" y="256.30" font-size="12.6" fill="#2b2b2b" textLength="20.39" lengthAdjust="spacingAndGlyphs">150</text>
<line x1="316.3" y1="283.0" x2="320.6" y2="283.0" stroke="#1a1a1a" stroke-width="1.4"/>
<text x="291.09" y="286.40" font-size="12.6" fill="#2b2b2b" textLength="20.39" lengthAdjust="spacingAndGlyphs">100</text>
<line x1="316.3" y1="313.1" x2="320.6" y2="313.1" stroke="#1a1a1a" stroke-width="1.4"/>
<text x="297.88" y="316.50" font-size="12.6" fill="#2b2b2b" textLength="13.59" lengthAdjust="spacingAndGlyphs">50</text>
<line x1="316.3" y1="343.2" x2="320.6" y2="343.2" stroke="#1a1a1a" stroke-width="1.4"/>
<text x="304.68" y="346.60" font-size="12.6" fill="#2b2b2b" textLength="6.80" lengthAdjust="spacingAndGlyphs">0</text>
<line x1="336.5" y1="363.5" x2="336.5" y2="367.6" stroke="#1a1a1a" stroke-width="1.4"/>
<text x="333.10" y="383.10" font-size="12.6" fill="#2b2b2b" textLength="6.80" lengthAdjust="spacingAndGlyphs">0</text>
<line x1="391.6" y1="363.5" x2="391.6" y2="367.6" stroke="#1a1a1a" stroke-width="1.4"/>
<text x="384.59" y="383.10" font-size="12.6" fill="#2b2b2b" textLength="13.59" lengthAdjust="spacingAndGlyphs">15</text>
<line x1="446.7" y1="363.5" x2="446.7" y2="367.6" stroke="#1a1a1a" stroke-width="1.4"/>
<text x="439.91" y="383.10" font-size="12.6" fill="#2b2b2b" textLength="13.59" lengthAdjust="spacingAndGlyphs">30</text>
<line x1="501.7" y1="363.5" x2="501.7" y2="367.6" stroke="#1a1a1a" stroke-width="1.4"/>
<text x="495.02" y="383.10" font-size="12.6" fill="#2b2b2b" textLength="13.59" lengthAdjust="spacingAndGlyphs">45</text>
<text x="393.35" y="403.00" font-size="13.8" fill="#2b2b2b" textLength="24.54" lengthAdjust="spacingAndGlyphs" stroke="#2b2b2b" stroke-width="0.22">Time</text>
<text x="420.01" y="403.00" font-size="13.8" fill="#2b2b2b" textLength="28.87" lengthAdjust="spacingAndGlyphs" stroke="#2b2b2b" stroke-width="0.22">(min)</text>
<g transform="translate(282.40,0) rotate(-90)"><text x="-336.16" y="0.00" font-size="14.4" fill="#2b2b2b" textLength="48.71" lengthAdjust="spacingAndGlyphs" stroke="#2b2b2b" stroke-width="0.22">Thrombin</text><text x="-284.46" y="0.00" font-size="14.4" fill="#2b2b2b" textLength="25.22" lengthAdjust="spacingAndGlyphs" stroke="#2b2b2b" stroke-width="0.22">(nM)</text></g>
<line x1="419.0" y1="249.0" x2="436.9" y2="249.0" stroke="#173f78" stroke-width="1.8"/>
<text x="441.78" y="251.90" font-size="11.8" font-style="italic" fill="#2b2b2b" textLength="17.22" lengthAdjust="spacingAndGlyphs">f10</text>
<text x="459.07" y="246.70" font-size="6.9" fill="#2b2b2b" textLength="12.11" lengthAdjust="spacingAndGlyphs">WT</text>
<text x="476.60" y="252.30" font-size="10.4" fill="#2b2b2b" textLength="33.11" lengthAdjust="spacingAndGlyphs">(n = 7)</text>
<line x1="419.0" y1="270.9" x2="436.9" y2="270.9" stroke="#b8102f" stroke-width="1.8"/>
<text x="441.78" y="273.60" font-size="11.8" font-style="italic" fill="#2b2b2b" textLength="17.22" lengthAdjust="spacingAndGlyphs">f10</text>
<text x="458.52" y="268.60" font-size="6.6" fill="#2b2b2b" textLength="12.96" lengthAdjust="spacingAndGlyphs">low</text>
<text x="473.69" y="274.00" font-size="10.4" fill="#2b2b2b" textLength="33.21" lengthAdjust="spacingAndGlyphs">(n = 6)</text>
</svg>
</body></html>
